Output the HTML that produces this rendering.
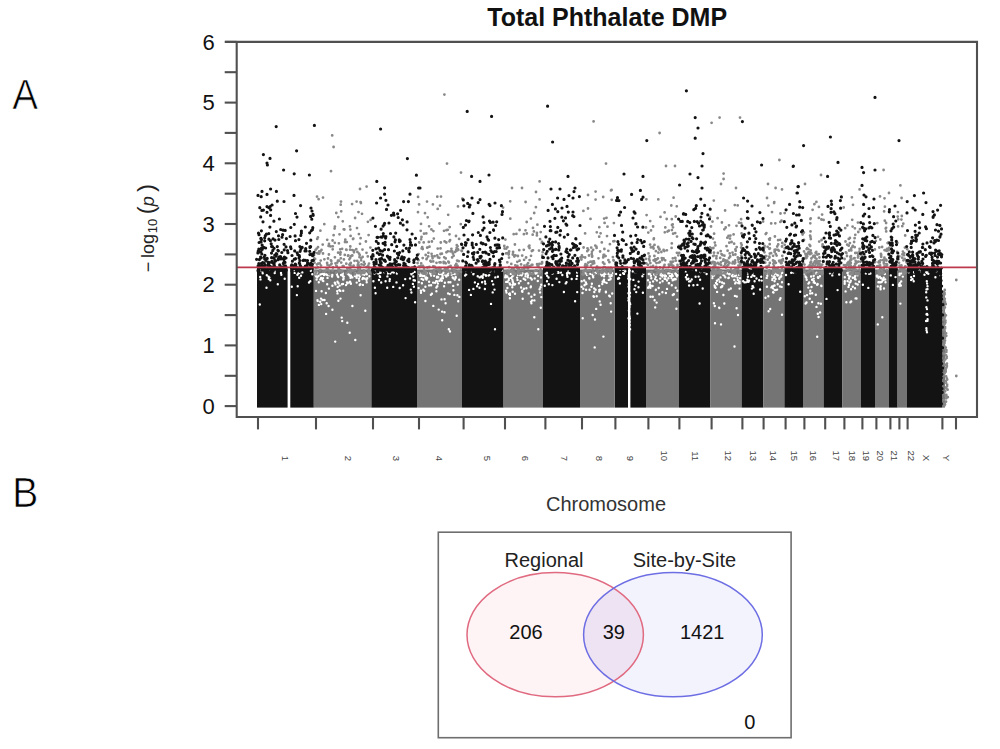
<!DOCTYPE html>
<html><head><meta charset="utf-8"><style>
html,body{margin:0;padding:0;background:#fff;}
body{width:1000px;height:749px;position:relative;overflow:hidden;font-family:"Liberation Sans",sans-serif;}
svg text{font-family:"Liberation Sans",sans-serif;}
</style></head><body>
<svg width="1000" height="749" viewBox="0 0 1000 749" style="position:absolute;left:0;top:0">
<rect x="257.0" y="266.5" width="30.6" height="141.1" fill="#131313"/>
<rect x="290.3" y="266.5" width="23.5" height="141.1" fill="#131313"/>
<rect x="313.8" y="269.5" width="57.6" height="138.1" fill="#747474"/>
<rect x="371.4" y="267.7" width="45.6" height="139.9" fill="#131313"/>
<rect x="417.0" y="269.5" width="45.0" height="138.1" fill="#747474"/>
<rect x="462.0" y="267.7" width="41.6" height="139.9" fill="#131313"/>
<rect x="503.6" y="269.5" width="39.4" height="138.1" fill="#747474"/>
<rect x="543.0" y="267.7" width="37.0" height="139.9" fill="#131313"/>
<rect x="580.0" y="269.5" width="34.0" height="138.1" fill="#747474"/>
<rect x="614.5" y="266.5" width="13.5" height="141.1" fill="#131313"/>
<rect x="630.4" y="267.7" width="15.6" height="139.9" fill="#131313"/>
<rect x="646.0" y="269.5" width="33.0" height="138.1" fill="#747474"/>
<rect x="679.0" y="266.5" width="31.4" height="141.1" fill="#131313"/>
<rect x="710.4" y="269.5" width="31.2" height="138.1" fill="#747474"/>
<rect x="741.6" y="269.5" width="21.8" height="138.1" fill="#131313"/>
<rect x="763.4" y="269.5" width="21.0" height="138.1" fill="#747474"/>
<rect x="784.4" y="267.7" width="18.6" height="139.9" fill="#131313"/>
<rect x="803.0" y="269.5" width="20.6" height="138.1" fill="#747474"/>
<rect x="823.6" y="267.7" width="18.8" height="139.9" fill="#131313"/>
<rect x="842.4" y="269.5" width="18.6" height="138.1" fill="#747474"/>
<rect x="861.0" y="267.7" width="14.0" height="139.9" fill="#131313"/>
<rect x="875.0" y="269.5" width="14.0" height="138.1" fill="#747474"/>
<rect x="889.0" y="267.7" width="8.6" height="139.9" fill="#131313"/>
<rect x="897.6" y="269.5" width="9.4" height="138.1" fill="#747474"/>
<rect x="907.0" y="267.7" width="35.0" height="139.9" fill="#131313"/>
<rect x="942.0" y="290.8" width="3.0" height="116.8" fill="#747474"/>
<path d="M262.7 273.2h0M260.5 279.4h0M268.6 276.7h0M272.5 270.1h0M270.5 269.9h0M261.0 270.2h0M281.3 274.7h0M264.7 270.8h0M284.7 278.7h0M269.4 277.6h0M259.8 304.5h0M266.5 287.8h0M261.8 271.0h0M281.0 273.0h0M274.6 271.4h0M268.8 279.0h0M260.2 276.9h0M264.2 270.1h0M270.3 280.2h0M274.7 273.0h0M266.8 275.2h0M277.8 284.3h0M301.0 275.8h0M294.7 272.9h0M298.3 273.5h0M291.8 286.7h0M309.0 282.5h0M310.8 270.7h0M310.3 281.2h0M299.4 272.7h0M312.3 274.2h0M299.2 277.8h0M297.4 274.7h0M293.9 270.0h0M297.7 286.3h0M296.9 295.1h0M302.3 272.4h0M299.5 271.5h0M347.8 273.9h0M327.2 284.3h0M323.0 278.1h0M329.2 275.3h0M350.9 283.7h0M315.9 275.3h0M352.3 277.4h0M332.3 275.0h0M358.7 275.3h0M318.8 282.2h0M336.9 273.9h0M350.2 282.3h0M324.2 273.7h0M337.7 287.0h0M332.1 276.6h0M332.4 309.7h0M334.8 282.7h0M362.5 279.1h0M335.2 341.6h0M355.1 275.2h0M315.6 275.3h0M338.4 300.7h0M337.5 293.4h0M340.5 298.6h0M316.1 274.7h0M350.3 282.3h0M320.2 301.8h0M335.5 284.4h0M323.3 281.1h0M343.8 276.6h0M321.2 304.1h0M359.2 280.7h0M326.1 313.9h0M366.8 274.2h0M341.7 317.6h0M365.9 273.2h0M364.7 278.5h0M360.3 284.3h0M358.2 274.7h0M337.4 275.6h0M360.6 295.3h0M327.2 275.0h0M343.6 278.8h0M322.0 278.4h0M354.9 276.0h0M317.5 300.2h0M356.7 282.6h0M361.1 273.0h0M348.0 274.1h0M349.5 282.3h0M338.2 277.0h0M338.5 283.2h0M339.7 285.6h0M316.6 279.6h0M342.0 284.3h0M357.0 275.8h0M340.3 290.9h0M341.1 275.0h0M322.3 273.9h0M320.3 279.4h0M343.2 279.6h0M350.0 273.1h0M355.3 273.6h0M343.2 290.8h0M342.8 273.2h0M367.2 278.3h0M362.1 274.3h0M355.3 340.0h0M325.9 293.0h0M342.2 321.1h0M365.3 310.7h0M358.3 274.8h0M318.9 304.9h0M356.6 277.8h0M364.3 274.7h0M359.8 276.5h0M342.7 274.4h0M326.7 303.2h0M342.9 276.3h0M317.3 277.2h0M324.1 275.0h0M352.4 306.0h0M324.5 300.0h0M321.6 291.2h0M350.0 281.7h0M363.0 278.0h0M347.0 282.4h0M321.0 298.6h0M349.7 332.7h0M358.9 278.6h0M369.4 276.3h0M335.0 283.0h0M339.4 290.1h0M355.9 274.9h0M360.1 273.2h0M350.2 276.1h0M347.3 322.8h0M332.4 285.8h0M317.1 272.6h0M348.9 274.5h0M343.3 279.4h0M322.5 300.0h0M351.0 275.7h0M315.4 272.8h0M321.1 277.9h0M327.5 277.9h0M347.5 283.2h0M349.4 275.3h0M322.7 280.4h0M328.6 306.0h0M320.5 274.5h0M362.9 284.9h0M337.2 291.1h0M315.9 276.3h0M346.0 285.1h0M350.5 277.8h0M366.5 279.7h0M328.9 288.6h0M317.7 300.9h0M337.5 281.8h0M318.5 275.9h0M316.0 290.9h0M366.7 282.3h0M326.2 274.4h0M343.0 283.9h0M359.7 285.0h0M405.6 298.1h0M413.9 286.7h0M374.5 273.5h0M380.6 272.8h0M375.1 271.6h0M410.0 278.4h0M413.3 276.5h0M375.6 293.2h0M389.8 279.3h0M413.8 271.9h0M396.9 273.5h0M413.6 280.3h0M389.6 281.1h0M379.7 276.3h0M415.1 302.3h0M374.5 273.1h0M387.9 273.5h0M411.4 292.5h0M374.9 287.7h0M403.1 285.2h0M414.9 280.5h0M379.1 271.3h0M412.9 283.9h0M385.6 281.3h0M405.2 279.1h0M386.7 271.8h0M378.2 273.5h0M380.1 276.9h0M379.0 273.3h0M373.4 281.3h0M381.2 282.5h0M412.4 271.1h0M412.7 273.1h0M410.8 289.6h0M392.0 272.1h0M412.5 271.7h0M399.7 288.0h0M387.4 276.4h0M393.2 286.9h0M379.0 280.0h0M375.3 273.1h0M396.5 282.4h0M410.0 272.2h0M390.4 273.6h0M384.4 272.3h0M387.2 287.8h0M393.8 272.5h0M411.4 274.3h0M414.6 271.9h0M437.2 281.4h0M433.3 305.9h0M455.7 276.9h0M442.2 274.4h0M452.7 277.5h0M450.4 282.2h0M446.5 274.8h0M437.9 283.6h0M453.4 290.2h0M430.7 274.0h0M427.2 278.0h0M430.3 273.3h0M448.0 275.2h0M423.2 279.8h0M438.2 277.3h0M425.6 278.0h0M419.0 273.5h0M450.0 331.4h0M448.6 273.6h0M442.2 320.2h0M439.0 274.0h0M426.5 279.5h0M418.8 282.1h0M445.6 303.2h0M457.8 284.6h0M429.1 285.4h0M424.3 276.0h0M451.0 272.9h0M430.9 294.8h0M445.3 275.1h0M457.4 295.2h0M451.5 274.8h0M449.7 294.1h0M426.3 277.4h0M431.9 293.7h0M441.6 278.1h0M453.4 278.2h0M420.2 275.9h0M444.9 282.7h0M448.1 293.4h0M458.2 301.2h0M439.5 280.8h0M431.1 274.6h0M421.9 283.1h0M425.4 286.7h0M459.2 279.7h0M420.2 273.7h0M426.5 279.6h0M418.6 288.1h0M454.4 294.9h0M436.4 291.3h0M446.3 276.6h0M436.2 281.3h0M436.9 277.6h0M453.2 285.9h0M425.4 301.0h0M437.1 276.8h0M433.1 282.6h0M422.1 275.2h0M437.8 277.3h0M456.7 315.7h0M459.4 296.9h0M444.5 312.2h0M421.0 292.8h0M444.1 286.3h0M442.5 276.8h0M438.7 309.6h0M431.1 285.2h0M455.7 277.7h0M426.4 272.9h0M437.3 286.3h0M446.2 273.6h0M442.9 278.2h0M440.8 279.1h0M435.1 282.7h0M426.1 274.0h0M441.5 299.4h0M454.7 274.0h0M422.5 276.1h0M429.1 281.7h0M441.8 280.7h0M442.6 275.7h0M440.1 274.0h0M421.9 283.3h0M421.6 278.9h0M454.8 279.6h0M448.5 282.3h0M423.3 289.7h0M448.8 329.3h0M453.4 273.9h0M425.7 278.6h0M442.1 311.6h0M424.2 290.7h0M420.9 290.7h0M434.1 275.8h0M443.5 272.7h0M431.1 275.5h0M436.4 287.5h0M444.6 299.2h0M477.7 276.2h0M474.9 282.4h0M488.5 275.6h0M477.1 286.3h0M485.8 275.3h0M470.9 294.9h0M491.0 303.9h0M489.2 275.1h0M466.2 274.5h0M478.1 283.9h0M482.7 277.7h0M492.7 292.4h0M486.4 271.0h0M481.3 276.5h0M479.5 287.8h0M497.9 276.7h0M482.5 276.2h0M495.3 277.4h0M492.1 281.1h0M465.1 275.5h0M484.9 281.4h0M493.2 284.4h0M472.0 271.9h0M495.1 271.5h0M466.9 271.7h0M485.3 283.8h0M489.8 271.3h0M482.1 282.3h0M490.2 271.3h0M486.0 275.8h0M495.0 329.2h0M469.1 289.9h0M483.5 274.5h0M501.7 270.8h0M473.6 273.7h0M473.3 274.2h0M484.9 289.0h0M479.7 277.4h0M475.3 271.2h0M494.5 289.6h0M473.4 288.9h0M537.8 281.0h0M532.1 300.4h0M528.7 293.4h0M509.9 298.2h0M530.7 287.3h0M515.1 284.1h0M527.1 273.4h0M515.0 293.7h0M513.2 275.5h0M529.7 273.8h0M534.3 317.3h0M530.6 278.0h0M535.6 273.5h0M505.2 277.3h0M510.2 284.6h0M507.3 276.5h0M525.3 279.7h0M506.5 292.6h0M509.1 293.9h0M528.0 275.6h0M517.1 277.6h0M513.0 282.8h0M512.7 291.7h0M534.5 294.8h0M506.2 281.9h0M506.1 290.8h0M520.5 281.1h0M528.0 273.4h0M526.4 288.2h0M523.7 278.8h0M513.3 283.3h0M541.3 297.1h0M540.1 292.4h0M541.0 277.4h0M522.5 273.5h0M521.6 274.3h0M530.9 286.5h0M517.5 279.9h0M519.8 275.1h0M512.2 276.6h0M523.9 288.7h0M512.3 279.6h0M512.3 287.3h0M525.5 276.3h0M540.5 287.2h0M539.6 289.3h0M531.4 303.2h0M507.4 288.0h0M505.6 275.4h0M531.4 296.7h0M514.7 284.6h0M511.1 277.9h0M541.2 284.7h0M506.7 277.0h0M518.0 274.9h0M534.4 300.4h0M508.8 279.9h0M510.7 273.9h0M522.3 290.8h0M538.3 329.2h0M522.4 291.8h0M509.8 293.5h0M525.6 274.0h0M512.7 281.2h0M505.9 276.1h0M531.0 301.6h0M540.8 307.8h0M531.8 279.5h0M534.7 278.4h0M510.0 294.9h0M512.9 272.7h0M518.9 283.2h0M535.3 272.7h0M522.0 291.3h0M537.5 273.1h0M507.7 281.8h0M527.8 277.3h0M522.7 298.8h0M512.6 284.9h0M538.1 275.9h0M508.9 278.4h0M509.7 283.4h0M521.7 275.3h0M528.3 283.3h0M521.1 287.5h0M531.5 273.4h0M548.5 277.5h0M566.9 273.3h0M571.7 279.0h0M577.2 292.1h0M547.1 272.7h0M563.9 292.0h0M568.0 272.6h0M552.5 273.5h0M562.3 275.0h0M547.0 281.3h0M565.7 283.4h0M567.4 276.7h0M544.8 285.7h0M567.5 276.8h0M566.5 282.3h0M577.1 272.6h0M552.4 285.1h0M577.1 276.0h0M558.4 272.9h0M575.1 301.2h0M569.5 273.2h0M567.1 274.9h0M548.8 284.3h0M551.8 273.1h0M545.7 273.6h0M558.3 272.1h0M547.1 275.8h0M576.5 278.9h0M556.6 278.8h0M559.4 282.1h0M560.9 272.5h0M567.5 270.9h0M557.1 272.4h0M593.5 296.3h0M608.6 273.7h0M600.0 289.6h0M582.7 318.2h0M585.4 273.3h0M603.5 272.8h0M585.0 284.6h0M587.1 274.7h0M602.3 284.0h0M592.7 315.0h0M595.0 319.5h0M589.4 278.6h0M611.7 275.8h0M603.4 336.6h0M587.1 274.9h0M592.4 274.6h0M583.3 288.8h0M602.6 281.7h0M595.1 273.0h0M599.3 291.6h0M608.8 279.9h0M591.9 283.7h0M610.7 278.7h0M609.9 296.4h0M585.9 282.5h0M593.4 274.9h0M581.6 286.8h0M605.9 292.2h0M581.7 281.3h0M594.3 292.0h0M599.2 286.0h0M594.2 288.4h0M611.1 311.6h0M600.6 304.7h0M593.2 277.2h0M609.5 276.4h0M605.9 291.6h0M612.2 293.5h0M591.4 286.7h0M589.6 289.8h0M586.4 284.0h0M596.7 296.2h0M610.1 276.5h0M610.3 273.6h0M586.1 289.7h0M599.3 289.9h0M599.7 301.4h0M610.4 279.3h0M605.6 273.7h0M590.1 273.9h0M608.5 274.0h0M604.0 279.6h0M604.1 276.2h0M584.5 285.3h0M603.9 280.8h0M601.8 275.5h0M593.0 276.5h0M610.7 303.2h0M594.7 347.4h0M606.6 282.9h0M595.6 289.8h0M593.9 296.7h0M596.2 308.9h0M604.7 274.1h0M602.6 274.5h0M612.1 273.2h0M604.5 282.0h0M601.2 274.3h0M589.2 278.3h0M582.5 293.0h0M584.2 280.5h0M609.2 295.7h0M595.9 273.0h0M603.8 280.2h0M619.9 283.4h0M625.5 270.7h0M620.2 274.9h0M618.7 278.0h0M620.1 269.7h0M616.1 274.0h0M624.0 273.9h0M623.1 273.3h0M618.0 278.7h0M623.1 269.7h0M619.1 278.3h0M625.0 271.6h0M638.5 287.2h0M643.1 270.9h0M642.4 276.2h0M638.6 281.6h0M634.5 289.3h0M636.2 292.1h0M636.1 271.0h0M632.8 271.4h0M633.4 279.9h0M635.6 272.4h0M643.5 273.8h0M642.9 292.8h0M637.4 313.6h0M635.4 285.6h0M659.3 294.3h0M655.9 289.7h0M648.8 274.0h0M673.7 279.8h0M660.7 275.3h0M655.8 290.0h0M663.1 274.6h0M675.7 279.3h0M654.6 300.2h0M660.0 282.6h0M660.8 273.0h0M656.6 302.6h0M668.8 283.3h0M675.2 273.4h0M656.5 274.0h0M648.1 287.8h0M651.3 278.3h0M648.0 280.3h0M654.2 274.5h0M650.2 273.6h0M663.0 275.2h0M672.1 274.3h0M655.1 279.1h0M672.7 275.9h0M669.8 273.1h0M675.8 273.8h0M665.4 278.9h0M650.5 296.7h0M668.3 273.4h0M669.1 283.3h0M662.4 276.5h0M660.6 275.1h0M665.1 276.6h0M655.7 276.9h0M650.1 285.0h0M662.4 292.2h0M650.9 275.7h0M662.6 281.2h0M658.7 288.0h0M674.3 279.0h0M676.9 276.4h0M677.2 299.6h0M655.2 307.4h0M665.9 293.0h0M677.4 275.3h0M671.8 285.2h0M649.9 282.5h0M652.8 296.7h0M666.0 276.2h0M661.4 275.2h0M650.4 287.7h0M650.6 285.7h0M667.0 280.4h0M648.8 286.7h0M676.3 275.1h0M660.2 278.6h0M668.4 278.3h0M667.0 288.9h0M664.6 278.8h0M653.1 281.4h0M676.4 308.8h0M677.3 290.8h0M672.7 280.2h0M669.8 275.9h0M675.7 287.8h0M673.9 294.3h0M671.1 276.3h0M656.9 280.4h0M671.5 278.1h0M672.8 295.0h0M652.6 286.0h0M664.5 274.6h0M695.6 276.7h0M682.4 269.9h0M700.1 279.8h0M706.6 274.0h0M689.1 285.5h0M696.2 270.2h0M686.9 279.4h0M694.3 269.9h0M701.4 269.8h0M688.4 278.7h0M687.1 275.0h0M685.7 271.4h0M693.4 285.3h0M690.4 281.3h0M697.4 284.9h0M691.7 279.4h0M685.9 277.2h0M699.6 303.5h0M698.6 276.6h0M690.0 270.5h0M704.4 272.0h0M693.1 269.6h0M702.7 288.5h0M689.1 281.4h0M700.5 272.0h0M717.1 284.2h0M736.7 296.4h0M734.9 295.9h0M716.9 280.7h0M732.7 276.4h0M715.0 323.2h0M721.9 272.6h0M728.8 277.8h0M735.7 274.0h0M737.5 277.6h0M720.5 277.4h0M739.1 274.9h0M735.2 283.4h0M727.2 273.4h0M739.6 288.6h0M714.8 306.0h0M740.1 278.2h0M738.9 281.9h0M712.6 276.1h0M719.3 308.0h0M722.1 282.5h0M738.2 283.0h0M736.6 308.2h0M735.1 276.2h0M723.6 272.8h0M719.1 307.6h0M728.3 278.1h0M731.9 275.8h0M714.6 285.4h0M713.9 303.2h0M721.7 287.0h0M714.1 274.4h0M734.5 346.5h0M734.3 280.0h0M738.0 315.0h0M719.7 281.8h0M739.6 281.4h0M730.8 288.5h0M723.4 295.0h0M735.8 282.5h0M736.1 275.3h0M727.0 272.9h0M716.0 282.9h0M724.3 303.5h0M723.5 275.0h0M724.0 283.4h0M714.5 272.6h0M715.6 287.7h0M734.7 276.1h0M736.8 296.6h0M712.0 274.9h0M728.8 289.6h0M712.4 278.1h0M718.6 279.4h0M739.6 283.3h0M714.0 275.4h0M714.9 287.0h0M724.3 275.6h0M721.0 324.4h0M725.3 277.2h0M723.2 274.7h0M721.0 287.2h0M717.1 291.9h0M729.6 273.9h0M737.8 279.9h0M732.9 273.9h0M722.3 286.0h0M729.2 274.2h0M753.7 293.8h0M743.2 281.3h0M754.6 281.3h0M752.8 286.3h0M747.3 273.7h0M744.6 282.4h0M747.8 273.6h0M753.4 287.4h0M761.2 276.7h0M747.6 280.7h0M759.2 280.3h0M751.3 276.9h0M761.7 280.6h0M746.5 282.1h0M749.1 280.7h0M756.5 278.5h0M752.6 272.8h0M754.4 276.1h0M751.9 288.6h0M748.5 281.8h0M752.7 275.3h0M747.3 279.7h0M752.5 286.1h0M747.9 276.7h0M760.1 289.5h0M772.2 275.5h0M775.4 273.5h0M777.5 275.6h0M777.3 274.9h0M777.7 284.2h0M770.2 309.0h0M772.1 286.5h0M779.8 299.8h0M775.7 290.1h0M781.2 276.2h0M782.0 314.7h0M779.7 277.6h0M780.0 286.4h0M773.1 292.2h0M779.2 278.7h0M774.6 285.5h0M765.5 297.7h0M773.3 272.7h0M780.1 273.8h0M780.8 273.7h0M767.3 275.7h0M777.1 289.6h0M775.6 279.0h0M782.0 282.3h0M774.6 281.2h0M772.3 280.1h0M766.9 286.8h0M781.6 286.9h0M774.7 289.9h0M766.7 277.9h0M774.6 273.7h0M780.5 298.3h0M778.4 275.0h0M773.5 292.5h0M768.3 296.3h0M774.2 277.5h0M773.0 288.3h0M780.5 276.9h0M772.5 278.6h0M773.6 275.6h0M771.4 287.4h0M773.8 285.7h0M782.2 272.7h0M774.7 276.7h0M768.6 311.3h0M768.6 273.4h0M800.2 291.7h0M788.6 284.3h0M786.0 275.0h0M791.2 272.8h0M793.3 272.6h0M796.1 272.1h0M821.4 286.0h0M815.0 283.1h0M818.6 317.0h0M806.3 277.6h0M805.6 303.5h0M820.9 303.7h0M821.2 285.7h0M817.6 283.9h0M808.4 283.6h0M817.6 273.6h0M806.7 279.8h0M809.2 282.5h0M819.9 276.3h0M817.7 284.3h0M812.2 293.2h0M812.1 279.8h0M818.2 277.9h0M809.7 298.8h0M808.3 287.6h0M816.6 272.7h0M810.3 290.7h0M817.2 336.8h0M817.9 277.3h0M807.0 295.1h0M812.1 302.0h0M811.1 276.5h0M813.8 281.7h0M805.6 276.8h0M817.1 284.7h0M811.5 287.0h0M804.8 296.2h0M804.8 274.2h0M813.7 282.4h0M813.7 275.7h0M805.1 272.6h0M820.1 312.4h0M816.0 273.4h0M814.0 281.2h0M815.8 294.8h0M816.5 306.9h0M806.5 302.5h0M810.1 293.5h0M818.4 303.3h0M817.8 313.7h0M813.7 278.6h0M829.9 273.2h0M839.2 274.5h0M837.6 290.1h0M832.3 275.4h0M832.4 272.8h0M826.5 298.9h0M844.7 283.7h0M848.4 272.7h0M855.6 298.4h0M850.2 276.2h0M855.0 279.1h0M849.4 276.6h0M847.6 281.1h0M855.6 279.4h0M844.8 281.1h0M852.8 277.8h0M849.9 275.8h0M849.6 282.5h0M857.5 275.0h0M858.0 273.4h0M852.5 273.8h0M850.3 282.1h0M857.7 284.5h0M844.8 277.2h0M857.6 275.3h0M855.7 283.6h0M849.0 278.5h0M852.8 286.8h0M846.4 302.2h0M854.7 277.7h0M851.2 301.4h0M845.6 291.4h0M849.0 285.0h0M848.5 286.9h0M848.1 275.1h0M855.0 288.2h0M850.4 302.2h0M856.5 273.4h0M855.1 276.2h0M850.8 280.7h0M847.4 272.9h0M851.1 289.3h0M856.5 298.5h0M859.2 281.8h0M850.2 272.6h0M844.7 281.8h0M870.4 273.5h0M869.1 273.8h0M862.9 284.7h0M868.3 287.9h0M865.9 273.4h0M883.7 277.6h0M884.0 288.5h0M880.7 286.2h0M880.4 287.8h0M877.6 275.8h0M878.4 282.3h0M879.8 276.6h0M881.1 278.2h0M882.3 317.2h0M880.9 282.2h0M885.5 282.2h0M882.1 281.5h0M878.5 277.8h0M877.5 275.5h0M876.9 276.6h0M882.8 279.1h0M884.8 274.0h0M883.4 279.9h0M885.2 279.4h0M877.8 286.4h0M879.4 282.2h0M880.6 289.2h0M876.9 275.6h0M877.8 324.4h0M892.9 284.9h0M890.8 275.4h0M895.5 277.1h0M899.3 285.9h0M901.5 273.4h0M900.0 284.8h0M904.6 273.1h0M899.5 275.1h0M899.6 273.6h0M902.8 276.6h0M900.9 285.5h0M901.2 281.4h0M899.8 283.1h0M899.1 284.4h0M900.4 303.6h0M913.7 281.2h0M940.4 275.9h0M919.5 270.7h0M914.0 272.2h0M928.3 273.7h0M936.2 271.4h0M914.0 276.0h0M925.3 271.7h0M924.5 274.8h0M919.9 271.8h0M911.2 277.3h0M935.4 277.2h0M912.6 279.1h0M911.1 280.1h0M908.8 272.2h0M629.2 326.0h0M629.5 322.3h0M628.5 300.4h0M630.2 304.2h0M629.9 318.5h0M629.1 311.4h0M629.7 296.4h0M629.2 318.6h0M630.1 329.2h0M628.9 310.6h0M629.3 321.1h0M628.6 298.0h0M628.6 318.2h0M629.7 270.4h0M628.3 278.5h0M629.4 316.5h0M628.8 274.8h0M629.4 306.9h0M629.0 286.2h0M628.8 283.9h0M630.0 292.9h0M629.7 302.9h0M628.6 286.8h0M629.6 321.8h0M630.2 279.2h0M628.6 275.9h0M628.5 293.2h0M629.7 325.0h0M629.4 278.7h0M628.9 278.6h0M926.4 307.3h0M926.8 281.2h0M926.4 328.2h0M927.0 309.1h0M926.5 289.4h0M927.2 271.0h0M927.0 332.2h0M927.0 273.1h0M926.1 321.0h0M926.3 297.4h0M927.0 313.9h0M926.5 314.3h0M927.5 300.4h0M926.6 314.6h0M927.4 314.7h0M927.5 320.8h0M927.5 286.3h0M927.1 283.6h0M926.2 292.2h0M927.5 289.1h0M926.5 330.2h0M927.6 319.2h0" stroke="#fff" stroke-width="2.4" stroke-linecap="round" fill="none"/>
<path d="M330.9 260.3h0M313.7 254.3h0M340.6 252.5h0M327.4 264.8h0M317.0 264.4h0M354.0 252.3h0M328.9 254.5h0M358.6 265.2h0M350.5 269.5h0M363.7 270.5h0M327.1 262.9h0M357.0 228.1h0M332.6 240.5h0M352.3 255.5h0M361.5 264.3h0M338.9 243.3h0M331.3 260.9h0M317.9 237.4h0M316.3 271.9h0M316.4 271.9h0M350.4 229.6h0M317.2 253.1h0M360.3 267.2h0M317.2 238.9h0M368.6 235.1h0M321.0 265.6h0M360.9 203.0h0M350.3 246.5h0M320.2 270.4h0M332.5 270.7h0M329.1 274.0h0M334.9 226.7h0M342.8 221.3h0M315.1 259.0h0M357.8 265.2h0M344.8 254.9h0M318.6 199.2h0M314.9 271.4h0M370.6 219.9h0M342.1 248.8h0M342.3 271.1h0M328.6 245.9h0M326.7 269.1h0M319.7 263.4h0M358.6 273.0h0M350.1 249.7h0M336.7 266.2h0M364.2 272.9h0M329.4 265.6h0M335.5 263.3h0M340.4 270.1h0M357.4 251.9h0M333.0 267.5h0M352.1 204.1h0M339.2 271.4h0M320.7 260.6h0M327.2 239.8h0M354.5 260.8h0M323.5 271.7h0M343.9 259.4h0M324.4 259.3h0M319.3 253.5h0M336.2 272.7h0M356.3 249.1h0M350.3 270.9h0M336.4 265.6h0M359.7 255.1h0M350.4 263.3h0M348.4 271.9h0M366.5 252.8h0M357.2 260.8h0M355.0 270.2h0M354.3 250.6h0M350.9 256.2h0M349.7 268.4h0M359.1 253.7h0M328.0 258.5h0M349.4 264.7h0M367.8 256.4h0M358.9 234.1h0M369.0 263.6h0M322.7 244.6h0M343.7 229.3h0M345.0 242.0h0M350.8 262.9h0M337.3 262.6h0M352.9 270.6h0M320.5 251.4h0M317.9 267.4h0M314.1 255.0h0M353.6 265.7h0M327.3 269.5h0M344.2 229.5h0M336.3 213.0h0M358.0 269.1h0M340.8 258.3h0M368.4 270.3h0M361.3 258.1h0M331.2 264.3h0M361.2 272.2h0M329.0 244.0h0M338.5 269.7h0M354.9 274.3h0M331.6 263.7h0M350.2 265.4h0M366.4 267.2h0M360.8 273.4h0M321.5 249.9h0M314.2 258.4h0M320.4 269.8h0M358.0 264.3h0M365.1 271.7h0M364.3 271.4h0M352.5 250.1h0M362.5 249.6h0M344.4 229.6h0M363.9 265.2h0M327.8 269.5h0M316.7 248.6h0M342.1 271.9h0M363.9 262.0h0M340.7 204.7h0M362.6 256.9h0M368.2 265.7h0M350.6 235.9h0M353.3 238.7h0M369.4 268.0h0M364.7 263.8h0M349.9 226.3h0M334.8 242.8h0M358.5 262.5h0M338.1 252.7h0M330.5 246.4h0M342.8 266.1h0M370.4 247.6h0M332.7 249.3h0M347.4 268.7h0M315.6 249.9h0M345.3 239.7h0M313.7 260.8h0M359.5 257.2h0M349.4 259.3h0M348.2 255.3h0M351.9 270.6h0M319.2 251.4h0M357.9 273.0h0M334.9 257.3h0M346.2 249.7h0M338.0 260.7h0M350.5 265.4h0M346.4 273.5h0M359.9 269.6h0M339.5 234.3h0M348.0 255.8h0M341.2 211.3h0M350.6 272.7h0M315.7 268.1h0M320.4 230.7h0M363.1 272.9h0M354.8 273.7h0M324.3 224.2h0M355.1 218.0h0M318.2 253.5h0M340.3 254.6h0M368.4 269.7h0M315.6 274.2h0M318.0 247.2h0M323.0 253.5h0M318.1 263.7h0M339.0 260.7h0M359.1 271.9h0M350.2 257.8h0M358.5 266.6h0M346.5 249.9h0M369.0 272.0h0M332.8 246.3h0M362.0 213.8h0M338.6 268.5h0M352.9 266.8h0M360.6 238.2h0M329.4 274.3h0M361.1 260.3h0M361.1 273.7h0M346.8 242.1h0M360.6 202.1h0M333.6 235.2h0M360.0 243.8h0M367.9 221.8h0M353.0 239.0h0M329.0 270.7h0M340.2 249.3h0M358.5 212.1h0M365.9 241.5h0M341.2 262.6h0M325.5 271.0h0M334.6 228.6h0M343.6 266.2h0M370.2 272.7h0M350.0 272.6h0M348.0 271.7h0M314.5 262.7h0M346.3 263.7h0M338.3 217.1h0M458.7 261.2h0M450.1 271.4h0M447.8 251.3h0M434.0 272.3h0M449.7 227.1h0M421.1 239.3h0M421.7 248.4h0M428.2 256.4h0M455.1 251.9h0M418.9 272.5h0M425.0 213.2h0M447.5 268.9h0M455.6 271.9h0M453.7 255.7h0M432.7 274.2h0M456.7 247.9h0M425.8 273.8h0M434.6 256.2h0M454.3 271.6h0M444.6 241.4h0M426.5 259.2h0M418.5 260.2h0M438.0 257.4h0M433.2 266.5h0M431.9 241.5h0M461.9 251.0h0M446.9 268.4h0M439.5 262.3h0M440.8 242.5h0M418.1 196.9h0M456.6 250.8h0M445.7 258.4h0M452.2 269.1h0M447.8 229.8h0M450.5 251.4h0M432.6 258.3h0M420.6 266.1h0M460.5 268.1h0M428.5 267.1h0M422.7 258.1h0M437.3 196.7h0M430.4 260.9h0M431.0 271.8h0M441.9 253.7h0M457.6 267.7h0M425.7 273.0h0M432.9 204.4h0M455.3 265.5h0M457.9 249.2h0M417.6 263.1h0M448.9 262.5h0M425.7 255.0h0M446.3 242.5h0M460.8 224.2h0M452.8 273.1h0M423.9 267.7h0M456.8 245.2h0M426.3 233.4h0M446.4 252.3h0M432.0 256.2h0M418.6 254.1h0M439.3 267.9h0M437.9 269.6h0M419.1 204.4h0M431.6 253.8h0M424.1 267.9h0M453.0 272.9h0M443.6 262.0h0M444.2 257.3h0M428.4 252.8h0M452.2 251.4h0M461.5 250.7h0M440.5 269.2h0M418.4 272.1h0M452.1 257.4h0M427.0 201.6h0M419.2 272.9h0M439.6 272.0h0M458.4 271.2h0M425.6 271.8h0M424.0 233.7h0M427.7 217.3h0M445.8 263.3h0M437.7 248.6h0M421.5 237.0h0M445.8 273.3h0M419.3 242.5h0M457.5 266.0h0M426.8 258.6h0M436.5 262.8h0M450.6 265.8h0M460.8 268.7h0M423.7 242.4h0M428.8 241.9h0M429.5 246.7h0M456.3 263.8h0M444.0 230.8h0M457.1 260.6h0M456.2 250.2h0M462.3 198.7h0M422.8 273.4h0M457.2 274.2h0M421.0 223.9h0M420.7 230.8h0M449.5 234.3h0M418.0 212.2h0M448.2 214.8h0M427.2 247.7h0M418.9 272.6h0M455.8 268.3h0M422.7 249.0h0M447.5 271.2h0M439.5 223.5h0M439.3 257.8h0M427.3 267.5h0M450.1 240.1h0M429.4 267.0h0M439.9 272.7h0M433.2 261.4h0M446.5 230.2h0M448.3 261.7h0M449.5 241.3h0M436.0 268.3h0M434.6 266.6h0M460.9 271.9h0M459.1 238.9h0M433.8 238.6h0M423.0 266.0h0M458.3 249.9h0M431.4 229.4h0M431.0 261.7h0M450.1 274.4h0M443.7 263.0h0M445.1 270.1h0M448.6 266.8h0M444.7 262.4h0M445.0 268.2h0M444.3 270.3h0M440.5 254.0h0M424.1 270.4h0M440.6 262.4h0M427.5 247.6h0M437.7 208.9h0M457.6 246.3h0M434.4 273.7h0M422.2 247.2h0M421.2 263.4h0M440.5 248.4h0M435.0 272.9h0M437.2 255.4h0M451.4 248.8h0M433.4 231.1h0M433.9 270.0h0M418.8 266.7h0M419.2 242.3h0M429.1 226.3h0M453.9 270.0h0M456.0 236.0h0M452.9 253.5h0M419.9 267.0h0M519.3 250.2h0M512.8 254.4h0M522.2 255.6h0M513.5 273.3h0M519.3 270.2h0M528.7 246.6h0M508.1 273.8h0M504.6 248.5h0M539.4 263.9h0M540.7 232.1h0M513.7 234.2h0M532.9 273.7h0M534.8 271.1h0M507.4 247.2h0M540.1 239.2h0M525.6 202.0h0M528.1 263.2h0M506.2 248.7h0M514.9 244.5h0M532.5 274.3h0M535.9 207.2h0M528.9 272.3h0M507.6 253.1h0M517.3 261.8h0M537.4 224.7h0M518.3 272.7h0M509.1 251.4h0M534.2 213.0h0M508.9 271.4h0M524.1 259.8h0M527.5 266.0h0M532.7 234.7h0M536.9 235.4h0M530.1 273.9h0M537.4 265.4h0M513.3 254.8h0M516.7 267.5h0M542.7 252.2h0M533.9 231.4h0M513.9 269.3h0M513.2 274.0h0M516.4 233.9h0M539.0 250.6h0M507.3 262.3h0M528.0 268.4h0M542.1 262.1h0M529.4 245.7h0M519.6 230.0h0M542.2 255.7h0M515.3 265.3h0M514.3 274.2h0M510.2 201.3h0M531.0 255.8h0M513.1 252.0h0M530.4 273.3h0M542.1 263.0h0M529.6 260.1h0M515.4 255.4h0M505.1 271.8h0M508.8 271.9h0M530.9 218.6h0M510.3 218.7h0M519.6 260.7h0M531.8 265.0h0M504.3 245.9h0M536.6 270.3h0M514.3 256.6h0M538.4 266.4h0M526.8 233.5h0M510.0 271.2h0M526.1 257.5h0M505.2 271.8h0M540.6 272.2h0M508.7 253.9h0M518.3 269.8h0M513.9 272.5h0M518.8 269.0h0M511.9 270.3h0M517.9 256.0h0M537.1 264.2h0M536.9 233.0h0M521.0 273.2h0M531.8 251.0h0M522.5 269.6h0M521.1 264.4h0M518.1 271.7h0M525.5 230.3h0M532.4 264.8h0M542.0 241.8h0M539.9 272.5h0M511.0 270.0h0M507.7 270.6h0M506.1 253.4h0M512.3 268.3h0M509.1 267.2h0M511.3 263.9h0M523.9 234.2h0M533.0 250.3h0M523.3 270.1h0M509.0 257.6h0M533.0 227.9h0M538.4 267.1h0M527.0 264.6h0M512.7 273.0h0M508.8 252.5h0M526.7 222.0h0M530.0 266.2h0M523.8 249.8h0M541.7 263.6h0M535.8 270.5h0M540.5 270.3h0M517.4 266.0h0M518.6 274.0h0M503.1 207.6h0M521.6 269.6h0M508.7 254.5h0M540.5 269.5h0M524.1 268.8h0M505.4 239.6h0M526.5 267.4h0M537.8 266.0h0M541.8 242.9h0M538.8 273.5h0M515.4 273.7h0M524.4 265.7h0M529.5 248.1h0M610.8 267.7h0M607.1 268.8h0M597.0 266.6h0M610.8 271.5h0M588.3 249.8h0M610.0 270.4h0M606.5 217.8h0M609.4 262.2h0M610.2 272.7h0M605.6 256.1h0M608.3 250.8h0M585.1 233.4h0M593.7 261.5h0M596.0 268.8h0M592.8 269.4h0M600.1 251.5h0M613.9 223.1h0M613.3 241.3h0M590.5 261.7h0M585.0 265.7h0M599.2 236.7h0M592.2 255.9h0M598.5 258.3h0M592.1 256.7h0M612.0 268.7h0M598.7 274.0h0M583.6 247.5h0M603.4 256.7h0M603.2 197.0h0M582.6 274.4h0M590.5 218.9h0M594.3 274.2h0M608.4 260.2h0M586.7 265.8h0M610.8 272.7h0M611.9 268.1h0M581.9 255.3h0M583.4 210.9h0M585.7 269.3h0M612.9 257.1h0M585.1 257.5h0M592.1 261.6h0M585.5 269.7h0M599.8 268.2h0M597.1 271.6h0M593.9 261.3h0M582.9 274.1h0M605.2 270.1h0M588.0 208.5h0M593.1 249.8h0M587.3 251.2h0M595.3 245.6h0M600.6 233.3h0M583.6 271.6h0M601.8 272.9h0M597.4 268.5h0M586.0 269.9h0M610.1 268.1h0M586.3 265.4h0M608.1 269.4h0M601.0 271.7h0M591.2 247.6h0M604.6 222.9h0M602.4 271.4h0M582.7 257.1h0M588.1 274.3h0M583.8 270.8h0M602.5 269.4h0M603.6 255.0h0M583.3 271.7h0M611.7 199.8h0M596.6 247.9h0M596.8 232.3h0M610.9 268.9h0M585.5 264.1h0M602.9 272.2h0M613.7 260.6h0M607.5 226.7h0M581.4 259.6h0M591.7 253.9h0M603.8 267.1h0M583.9 274.3h0M601.8 242.4h0M593.2 272.4h0M582.4 274.3h0M614.4 241.2h0M607.0 236.1h0M613.4 260.2h0M599.3 227.2h0M596.4 246.6h0M597.3 266.9h0M589.9 270.4h0M594.2 263.2h0M598.0 271.1h0M604.1 218.6h0M588.2 262.7h0M592.6 263.0h0M604.3 254.9h0M604.4 263.9h0M592.0 251.6h0M605.2 267.3h0M588.5 270.7h0M603.2 257.4h0M589.0 255.5h0M580.6 257.4h0M603.0 262.5h0M587.5 248.3h0M606.5 272.5h0M592.8 263.7h0M604.4 249.0h0M609.9 244.2h0M591.0 265.6h0M586.0 271.1h0M608.3 267.9h0M587.2 265.5h0M649.0 258.8h0M653.1 226.5h0M673.3 268.0h0M658.9 262.6h0M658.4 252.7h0M658.3 199.4h0M646.3 263.3h0M665.3 227.4h0M655.9 269.9h0M677.7 266.9h0M673.3 272.3h0M673.0 227.3h0M673.1 261.6h0M654.5 244.9h0M669.0 266.3h0M666.9 250.3h0M673.1 233.7h0M675.8 268.1h0M657.3 270.3h0M667.5 231.6h0M671.9 230.1h0M670.5 264.5h0M666.2 270.0h0M668.2 269.8h0M651.2 272.2h0M676.4 267.9h0M671.6 265.0h0M677.1 271.3h0M661.0 271.4h0M659.5 249.5h0M673.3 265.9h0M653.6 260.3h0M658.9 248.7h0M656.5 263.1h0M645.9 258.9h0M660.1 272.2h0M678.3 255.3h0M665.2 260.3h0M654.4 256.0h0M663.8 273.3h0M659.2 248.7h0M672.7 224.5h0M665.6 272.4h0M671.3 205.5h0M675.5 269.2h0M653.9 238.4h0M656.2 266.8h0M656.8 259.1h0M664.8 232.3h0M679.2 261.0h0M664.3 251.0h0M666.7 219.0h0M663.6 258.3h0M646.0 227.5h0M646.6 215.1h0M653.6 248.6h0M668.8 264.6h0M656.6 259.5h0M672.0 225.0h0M663.0 269.8h0M672.8 258.3h0M671.8 243.4h0M655.4 274.1h0M651.0 230.4h0M664.0 266.3h0M657.2 273.3h0M656.4 268.9h0M649.6 260.5h0M650.4 263.1h0M652.9 246.9h0M653.3 247.8h0M673.6 197.7h0M671.8 219.2h0M679.0 245.8h0M676.8 206.3h0M668.8 230.7h0M654.9 261.0h0M650.1 244.7h0M653.7 239.2h0M649.6 256.5h0M655.9 251.2h0M671.7 261.8h0M650.9 247.4h0M675.4 258.1h0M670.3 271.5h0M648.3 232.6h0M675.2 233.1h0M648.0 264.8h0M671.4 263.9h0M663.6 249.9h0M658.9 272.2h0M670.6 261.8h0M655.1 259.5h0M661.8 258.1h0M664.6 264.8h0M655.0 269.6h0M671.6 247.9h0M679.2 252.9h0M673.0 266.7h0M650.8 266.8h0M676.9 252.8h0M663.0 268.5h0M661.4 252.0h0M677.0 236.6h0M650.2 221.1h0M675.2 258.0h0M646.4 199.3h0M658.2 247.0h0M670.3 270.5h0M653.1 265.9h0M648.5 253.4h0M658.6 270.4h0M675.8 260.7h0M657.9 258.4h0M663.1 271.7h0M677.5 264.9h0M660.0 267.5h0M660.0 261.9h0M662.3 260.0h0M664.6 212.4h0M651.9 272.3h0M675.7 216.5h0M660.5 216.9h0M725.2 264.2h0M723.5 259.4h0M727.6 250.7h0M717.9 268.0h0M717.9 253.0h0M737.8 257.5h0M741.6 258.3h0M725.2 260.5h0M739.8 258.5h0M713.5 274.4h0M710.8 252.9h0M716.4 258.4h0M739.4 265.9h0M727.3 237.7h0M710.0 217.0h0M738.3 259.7h0M720.1 273.8h0M713.4 248.0h0M726.7 266.5h0M740.3 265.2h0M733.6 234.4h0M712.4 271.9h0M730.2 256.5h0M739.6 262.6h0M721.3 274.1h0M740.0 271.7h0M710.0 247.4h0M732.6 272.5h0M735.4 249.5h0M714.1 273.9h0M726.5 246.2h0M713.8 200.6h0M740.1 274.3h0M735.7 250.8h0M734.8 205.1h0M712.5 221.6h0M720.9 270.3h0M714.0 252.7h0M732.5 263.4h0M720.7 251.1h0M732.5 252.6h0M736.2 268.5h0M723.0 260.8h0M714.2 273.1h0M712.8 269.4h0M729.7 253.4h0M736.5 225.8h0M727.9 270.3h0M714.7 262.5h0M739.9 258.4h0M726.3 262.7h0M727.3 260.7h0M728.5 236.0h0M735.2 260.3h0M740.0 274.4h0M714.7 272.2h0M714.1 233.7h0M710.1 248.5h0M716.5 256.1h0M717.7 263.0h0M721.5 254.1h0M735.8 273.6h0M711.5 263.5h0M735.3 270.7h0M726.0 272.3h0M720.7 272.4h0M730.1 256.5h0M713.4 266.8h0M737.7 205.4h0M733.9 273.1h0M716.3 258.3h0M736.7 247.1h0M731.6 242.0h0M713.1 256.1h0M715.4 271.1h0M730.4 235.6h0M734.1 243.7h0M715.4 245.4h0M713.6 268.4h0M717.8 272.9h0M710.8 262.3h0M729.3 242.7h0M717.6 218.2h0M720.8 262.3h0M723.8 266.3h0M741.7 245.1h0M733.0 262.0h0M741.2 223.2h0M728.0 270.5h0M734.2 270.2h0M725.7 227.5h0M733.2 254.8h0M730.9 269.5h0M724.3 229.3h0M725.1 273.4h0M714.5 268.5h0M716.4 273.2h0M726.0 267.5h0M715.3 266.5h0M741.1 243.3h0M720.2 257.9h0M734.6 263.5h0M717.4 269.0h0M722.3 255.0h0M728.2 265.1h0M729.0 258.0h0M712.5 267.9h0M728.6 262.2h0M721.9 222.5h0M738.2 269.1h0M738.7 262.1h0M725.6 262.4h0M717.5 272.4h0M723.5 273.1h0M735.4 254.5h0M725.1 210.5h0M718.9 264.0h0M711.5 248.4h0M714.8 242.6h0M714.5 264.3h0M729.5 263.0h0M729.0 225.3h0M715.4 264.0h0M724.7 260.4h0M732.4 272.0h0M735.7 268.5h0M741.6 233.5h0M724.4 255.7h0M739.0 222.7h0M741.1 247.6h0M714.5 264.8h0M735.2 262.7h0M741.6 261.9h0M713.0 238.6h0M738.4 265.6h0M713.9 272.5h0M741.2 255.7h0M711.0 226.5h0M713.1 262.0h0M721.0 264.9h0M713.8 255.6h0M719.1 272.3h0M741.1 219.2h0M734.5 272.3h0M740.5 264.2h0M717.7 272.4h0M730.0 238.6h0M711.7 274.2h0M719.1 269.5h0M734.6 272.5h0M774.3 202.1h0M774.1 262.4h0M782.8 260.5h0M775.8 270.1h0M777.2 246.5h0M769.7 244.2h0M782.9 259.1h0M767.9 271.2h0M764.3 247.8h0M773.3 269.1h0M779.3 261.3h0M776.2 269.2h0M774.6 250.0h0M780.3 271.4h0M781.6 260.1h0M782.5 267.1h0M778.9 273.0h0M763.1 221.5h0M764.8 257.6h0M778.4 267.6h0M781.5 220.7h0M774.5 261.1h0M767.7 259.7h0M770.0 238.3h0M781.1 260.8h0M774.1 203.1h0M777.6 270.0h0M775.8 254.0h0M779.4 260.8h0M774.9 236.5h0M773.5 268.0h0M764.5 252.3h0M775.6 269.6h0M768.8 265.6h0M781.1 267.2h0M774.9 269.4h0M774.3 272.5h0M769.3 256.6h0M764.5 258.8h0M769.6 239.9h0M782.3 243.0h0M768.4 205.6h0M773.1 255.8h0M784.8 248.4h0M779.1 260.8h0M773.9 266.2h0M769.4 270.5h0M778.2 244.5h0M775.5 263.0h0M772.8 274.3h0M773.3 270.7h0M781.0 263.2h0M780.5 213.5h0M782.1 269.6h0M783.8 251.7h0M765.3 256.1h0M765.2 262.7h0M782.6 269.8h0M777.9 271.0h0M764.6 246.0h0M775.7 249.7h0M766.8 267.7h0M775.3 223.3h0M773.4 263.9h0M772.9 272.6h0M780.4 221.9h0M784.7 244.8h0M782.9 266.6h0M769.8 253.6h0M778.1 240.2h0M781.6 263.1h0M780.2 239.8h0M764.3 256.5h0M776.0 269.4h0M774.7 251.3h0M769.1 239.1h0M766.5 266.6h0M765.7 234.1h0M784.7 213.1h0M769.1 271.8h0M769.2 274.1h0M766.3 256.1h0M764.9 259.2h0M779.6 270.3h0M779.7 273.7h0M769.5 257.6h0M765.3 273.0h0M781.8 270.4h0M766.2 273.6h0M777.1 271.9h0M773.5 270.2h0M776.6 255.6h0M775.9 262.8h0M774.6 251.9h0M767.6 246.8h0M782.0 246.5h0M774.1 270.6h0M773.0 260.5h0M782.3 255.8h0M777.9 249.9h0M769.8 263.0h0M769.4 248.8h0M771.1 253.2h0M766.4 233.1h0M771.2 223.4h0M769.9 248.4h0M772.0 212.1h0M778.9 250.7h0M814.0 273.4h0M809.9 254.2h0M810.7 253.1h0M810.5 237.0h0M819.6 263.8h0M811.0 261.6h0M822.2 271.7h0M811.4 253.4h0M814.8 255.9h0M804.5 264.6h0M816.5 258.8h0M808.3 249.2h0M813.7 255.8h0M804.3 258.8h0M818.1 263.8h0M819.8 267.5h0M802.6 234.5h0M812.5 264.9h0M808.3 266.9h0M803.7 258.6h0M815.0 261.2h0M808.2 272.2h0M808.6 252.1h0M804.0 239.8h0M809.8 269.9h0M810.4 252.9h0M823.6 219.9h0M805.4 257.9h0M821.6 240.0h0M820.8 267.5h0M804.0 251.4h0M817.7 274.0h0M804.1 268.2h0M810.1 267.1h0M810.4 219.1h0M809.8 265.1h0M812.6 209.8h0M811.9 266.2h0M818.8 217.9h0M822.4 246.3h0M810.9 262.3h0M810.2 246.0h0M819.4 257.5h0M813.0 256.5h0M818.9 206.9h0M819.9 261.2h0M813.0 264.1h0M809.7 253.1h0M816.5 266.9h0M810.7 250.4h0M815.6 252.8h0M822.6 244.5h0M818.8 254.1h0M819.9 272.4h0M807.2 254.0h0M810.4 262.8h0M822.2 264.6h0M822.1 214.6h0M810.7 218.4h0M818.5 261.2h0M810.5 231.4h0M816.0 263.5h0M804.1 269.1h0M816.5 262.5h0M810.8 239.1h0M817.5 266.5h0M811.8 267.2h0M811.4 258.5h0M822.4 273.4h0M816.4 261.3h0M821.4 219.5h0M807.2 248.1h0M816.4 201.9h0M806.5 258.0h0M814.9 257.6h0M809.5 244.8h0M810.3 223.3h0M810.6 252.3h0M814.4 204.2h0M814.4 255.9h0M822.0 274.2h0M820.9 266.0h0M802.7 259.9h0M814.7 265.9h0M819.7 272.1h0M803.3 263.4h0M813.9 262.6h0M809.4 271.4h0M810.1 235.6h0M804.8 271.8h0M805.4 253.8h0M803.9 232.5h0M806.0 255.6h0M805.6 273.5h0M816.3 252.0h0M816.7 263.0h0M819.6 266.3h0M817.2 254.6h0M812.1 267.6h0M810.6 270.6h0M812.9 271.1h0M819.2 241.6h0M806.6 249.1h0M807.3 256.3h0M853.0 271.8h0M851.0 256.1h0M854.5 267.3h0M859.6 273.0h0M848.1 264.8h0M859.6 248.8h0M854.1 242.0h0M850.6 257.7h0M851.3 250.4h0M857.9 257.6h0M854.0 266.5h0M855.3 234.8h0M858.7 253.9h0M848.7 245.7h0M849.1 266.5h0M861.5 255.5h0M849.1 250.5h0M854.7 267.1h0M847.2 244.7h0M859.2 267.1h0M852.5 267.7h0M858.1 255.5h0M844.6 259.0h0M854.6 258.1h0M852.2 219.8h0M858.4 256.2h0M859.3 266.6h0M850.4 256.6h0M858.2 273.6h0M851.0 260.0h0M850.0 274.0h0M848.8 238.9h0M849.9 238.0h0M857.3 273.9h0M843.9 265.1h0M858.3 274.4h0M851.2 259.7h0M854.1 270.4h0M843.7 207.5h0M848.2 270.3h0M856.8 273.2h0M857.9 222.6h0M853.1 274.0h0M853.7 258.4h0M852.4 246.8h0M851.1 248.4h0M858.3 232.0h0M850.1 274.2h0M851.8 272.1h0M848.4 262.2h0M845.2 228.2h0M856.1 262.5h0M845.5 241.5h0M855.0 266.8h0M859.1 266.0h0M855.3 264.3h0M853.2 269.4h0M845.8 252.4h0M855.3 253.0h0M853.1 272.5h0M852.6 226.6h0M854.7 247.2h0M847.6 263.1h0M854.9 228.3h0M850.8 262.9h0M845.7 266.8h0M859.5 251.5h0M846.0 265.2h0M849.8 263.6h0M859.5 269.8h0M858.2 261.7h0M847.3 225.4h0M847.5 264.3h0M860.0 229.2h0M850.7 273.4h0M860.7 261.7h0M847.0 256.0h0M849.9 273.3h0M846.5 268.3h0M854.6 238.2h0M846.4 252.9h0M850.8 265.7h0M850.8 268.8h0M852.4 268.5h0M853.8 267.9h0M852.8 246.0h0M855.6 260.8h0M849.4 268.3h0M856.2 273.8h0M855.1 263.9h0M855.3 269.3h0M851.9 197.3h0M849.9 243.1h0M857.0 252.8h0M861.3 254.0h0M856.4 262.9h0M850.1 260.5h0M853.0 204.8h0M852.8 272.6h0M856.3 269.9h0M881.0 254.3h0M889.1 250.0h0M878.6 271.0h0M883.8 262.5h0M879.2 272.7h0M880.5 260.3h0M878.6 272.2h0M882.0 273.4h0M879.4 274.3h0M885.5 259.3h0M880.1 265.3h0M887.1 264.5h0M884.5 260.3h0M884.0 263.6h0M889.1 248.5h0M879.1 261.5h0M880.9 254.0h0M881.8 269.7h0M883.9 272.7h0M879.0 270.9h0M884.6 250.2h0M883.6 260.2h0M882.1 272.3h0M881.2 254.8h0M883.8 269.0h0M877.0 266.4h0M886.1 227.8h0M880.3 239.5h0M886.7 265.7h0M879.4 272.9h0M874.9 249.5h0M878.5 262.3h0M888.5 242.3h0M887.6 243.1h0M879.7 273.4h0M878.6 265.8h0M884.5 198.3h0M887.6 250.3h0M878.0 236.8h0M888.7 248.6h0M879.3 247.5h0M883.9 263.6h0M887.0 265.4h0M880.3 269.0h0M879.1 271.5h0M886.9 270.1h0M882.1 247.0h0M881.1 255.8h0M878.9 272.2h0M884.4 257.6h0M886.5 264.1h0M886.2 231.4h0M887.0 249.0h0M881.8 270.2h0M878.9 274.2h0M881.2 256.8h0M879.7 262.4h0M886.1 223.0h0M886.9 250.9h0M889.0 248.0h0M885.6 250.4h0M875.8 240.9h0M880.5 267.8h0M884.1 211.4h0M877.3 223.1h0M886.0 259.6h0M884.9 206.7h0M883.0 260.1h0M886.5 260.5h0M884.8 220.7h0M884.5 266.4h0M885.7 228.6h0M875.2 262.0h0M901.9 271.0h0M905.2 235.5h0M901.8 216.0h0M900.7 267.5h0M897.7 216.6h0M903.0 268.2h0M902.3 226.2h0M897.1 251.8h0M904.1 255.2h0M903.4 260.3h0M904.9 247.6h0M904.2 253.2h0M902.4 254.4h0M898.2 219.3h0M899.8 269.4h0M904.7 258.9h0M906.2 261.1h0M899.4 256.3h0M905.4 266.4h0M906.6 262.5h0M901.4 265.4h0M903.9 271.8h0M897.9 212.1h0M897.4 242.8h0M904.5 268.9h0M903.7 269.8h0M904.9 271.9h0M901.8 269.9h0M900.5 267.0h0M898.1 226.4h0M907.3 249.3h0M903.3 274.2h0M899.6 265.6h0M905.2 267.1h0M905.3 273.1h0M899.0 262.8h0M902.9 251.6h0M906.5 262.2h0M903.3 223.7h0M902.0 267.8h0M901.3 269.7h0M902.2 257.7h0M901.4 219.6h0M898.5 255.9h0M907.1 248.9h0M944.8 290.0h0M943.8 291.9h0M944.5 293.0h0M944.6 294.3h0M943.6 296.2h0M943.9 297.7h0M944.8 298.8h0M944.5 300.8h0M945.1 302.3h0M945.7 304.2h0M943.9 305.5h0M944.9 307.5h0M943.9 309.3h0M943.8 311.1h0M943.8 312.3h0M944.5 313.6h0M945.9 315.3h0M945.0 316.7h0M944.5 318.1h0M943.5 319.4h0M945.4 320.6h0M945.4 322.4h0M944.6 323.9h0M944.2 325.1h0M945.1 327.1h0M945.0 328.5h0M944.3 330.0h0M944.7 331.4h0M946.1 333.3h0M944.8 334.6h0M946.3 335.8h0M944.9 336.9h0M944.9 337.9h0M943.5 339.4h0M945.0 340.5h0M944.4 342.0h0M944.5 343.1h0M943.8 344.4h0M944.2 346.0h0M945.8 347.6h0M945.1 348.6h0M946.4 350.2h0M946.3 351.9h0M944.3 353.6h0M946.1 355.4h0M946.7 356.9h0M946.6 357.9h0M945.4 359.3h0M944.1 361.1h0M943.6 362.6h0M946.9 363.6h0M945.0 364.8h0M946.9 365.9h0M946.6 367.4h0M945.2 368.7h0M945.7 370.0h0M945.7 371.7h0M944.7 373.3h0M943.6 375.2h0M946.1 376.4h0M946.8 378.3h0M947.2 379.6h0M945.8 381.0h0M946.0 382.7h0M947.1 384.6h0M947.1 385.9h0M946.3 387.2h0M946.1 388.4h0M947.6 389.7h0M945.1 391.3h0M944.0 393.3h0M946.3 395.0h0M945.5 396.1h0M947.8 397.2h0M946.3 398.3h0M944.0 399.8h0M946.0 401.7h0M944.7 403.4h0M945.0 404.5h0M944.4 405.6h0M332.2 135.4h0M333.6 147.0h0M331.0 171.2h0M317.0 196.6h0M323.0 197.6h0M341.0 201.6h0M356.6 201.6h0M360.0 189.0h0M366.6 186.6h0M444.4 94.6h0M593.6 121.4h0M447.0 163.6h0M606.0 163.6h0M461.0 172.6h0M539.6 181.4h0M512.0 188.0h0M522.0 188.0h0M536.0 192.0h0M539.6 199.4h0M595.6 191.6h0M595.6 199.6h0M611.6 190.0h0M588.0 195.0h0M441.0 196.6h0M440.0 205.6h0M458.0 206.4h0M719.6 117.6h0M711.6 122.8h0M740.0 117.6h0M659.6 133.0h0M666.0 166.0h0M675.0 166.0h0M723.6 173.6h0M723.6 179.0h0M721.0 184.0h0M779.4 160.0h0M768.0 184.0h0M775.6 188.0h0M782.0 189.4h0M611.0 190.4h0M736.0 188.0h0M767.0 198.0h0M883.6 170.0h0M821.0 175.0h0M805.0 184.0h0M889.0 193.0h0M880.0 196.4h0M900.4 185.4h0M901.6 198.0h0M859.6 189.4h0M956.3 280.0h0M956.3 376.0h0" stroke="#888" stroke-width="2.8" stroke-linecap="round" fill="none"/>
<path d="M273.1 238.9h0M265.6 248.0h0M270.0 269.1h0M272.0 268.4h0M280.7 229.5h0M266.4 234.2h0M274.8 255.2h0M286.4 238.6h0M258.4 251.9h0M287.9 252.7h0M269.0 265.4h0M271.2 270.9h0M259.7 266.6h0M265.1 268.9h0M259.0 234.7h0M284.4 257.1h0M265.3 235.7h0M283.3 263.4h0M263.0 268.4h0M271.9 261.3h0M258.1 265.9h0M274.2 263.1h0M272.8 250.4h0M258.2 251.2h0M284.1 244.3h0M269.4 262.5h0M258.5 233.2h0M262.6 262.5h0M258.0 270.4h0M268.4 267.3h0M265.2 268.5h0M261.5 263.3h0M259.2 259.5h0M264.9 255.4h0M258.7 268.2h0M261.1 257.9h0M273.1 270.9h0M278.5 235.8h0M261.8 254.0h0M281.1 257.8h0M281.2 266.8h0M282.0 237.2h0M263.7 247.3h0M258.8 263.5h0M264.7 258.9h0M270.6 215.4h0M264.3 263.2h0M263.8 263.0h0M283.1 230.2h0M281.8 252.5h0M285.2 230.4h0M271.6 246.6h0M267.0 212.3h0M269.0 207.7h0M279.4 219.0h0M262.3 266.2h0M261.1 242.0h0M277.3 201.2h0M260.6 257.1h0M286.0 258.0h0M282.6 234.7h0M265.8 260.3h0M264.7 237.8h0M284.0 268.8h0M274.9 260.4h0M284.2 261.6h0M273.0 257.8h0M262.3 249.3h0M261.9 210.4h0M274.1 248.3h0M274.1 258.3h0M274.0 269.3h0M280.9 259.0h0M280.5 256.6h0M275.5 260.9h0M278.4 258.5h0M271.6 257.7h0M284.2 249.9h0M274.0 266.0h0M260.8 238.6h0M258.8 249.2h0M277.1 268.5h0M261.4 230.8h0M261.0 252.1h0M263.4 210.1h0M271.9 262.3h0M261.6 239.5h0M267.2 258.4h0M279.3 256.8h0M270.4 240.7h0M276.2 256.1h0M286.2 270.2h0M259.8 207.7h0M280.3 269.8h0M270.1 266.1h0M264.7 240.8h0M259.3 249.8h0M269.9 227.1h0M259.1 242.5h0M282.7 270.1h0M273.8 264.0h0M261.7 265.8h0M261.1 266.5h0M263.8 269.4h0M279.7 264.9h0M262.1 245.0h0M265.2 271.0h0M273.9 221.2h0M286.0 246.9h0M270.2 206.5h0M268.9 239.2h0M287.5 250.6h0M278.8 239.5h0M267.9 262.1h0M260.0 266.1h0M262.7 266.1h0M284.0 201.5h0M264.9 265.4h0M261.5 248.0h0M285.5 265.9h0M264.2 257.2h0M268.2 264.7h0M271.5 253.1h0M272.4 267.3h0M259.3 259.7h0M258.6 270.6h0M274.7 266.6h0M277.3 246.6h0M268.8 233.6h0M261.2 196.7h0M257.9 252.9h0M276.3 231.6h0M260.9 241.5h0M282.9 258.8h0M275.0 240.1h0M278.4 250.8h0M261.8 270.1h0M281.9 269.4h0M276.3 253.7h0M256.6 259.3h0M272.4 246.7h0M258.6 252.1h0M260.1 266.2h0M263.0 221.8h0M272.1 205.0h0M278.1 259.7h0M276.8 254.2h0M265.3 265.3h0M274.2 264.9h0M265.7 269.0h0M277.9 250.3h0M271.2 243.8h0M283.6 269.1h0M271.1 271.0h0M270.7 209.8h0M285.0 262.4h0M261.0 238.3h0M260.7 216.9h0M284.5 258.7h0M283.7 266.6h0M258.1 270.9h0M309.7 232.8h0M312.8 227.7h0M291.0 248.6h0M307.5 260.6h0M292.4 265.3h0M301.5 268.9h0M307.2 265.0h0M305.4 266.0h0M299.5 256.8h0M295.8 264.7h0M295.2 259.1h0M295.4 268.7h0M292.0 255.5h0M303.8 260.0h0M299.9 246.6h0M299.0 258.1h0M297.3 270.2h0M302.1 268.9h0M295.1 235.9h0M299.9 260.5h0M310.6 216.4h0M292.0 271.0h0M301.4 231.0h0M299.7 271.3h0M310.8 240.2h0M293.6 266.2h0M306.5 243.3h0M305.7 248.5h0M303.2 260.4h0M295.5 213.5h0M297.2 252.8h0M305.4 260.3h0M292.8 269.2h0M299.3 255.7h0M290.1 236.5h0M313.3 260.3h0M301.4 232.9h0M312.0 260.6h0M291.8 264.8h0M300.1 251.3h0M312.5 229.6h0M298.6 270.0h0M294.7 250.9h0M302.2 247.4h0M295.5 240.7h0M297.0 217.1h0M294.4 259.1h0M306.1 250.9h0M299.8 268.5h0M292.6 269.3h0M311.4 230.6h0M295.3 264.2h0M290.6 246.9h0M299.3 262.9h0M291.4 268.0h0M313.2 254.9h0M309.9 254.6h0M292.4 261.2h0M311.1 263.0h0M311.8 254.2h0M309.7 251.3h0M292.0 270.6h0M311.8 219.2h0M311.9 265.7h0M306.7 265.9h0M291.4 265.6h0M305.3 227.0h0M296.3 270.9h0M313.2 215.3h0M300.5 266.2h0M294.3 224.3h0M310.0 247.4h0M297.8 254.7h0M308.1 263.3h0M307.5 263.0h0M292.0 268.8h0M312.4 264.3h0M293.4 268.0h0M300.8 249.3h0M305.0 250.9h0M310.6 246.7h0M309.4 269.0h0M298.9 239.6h0M296.6 267.4h0M310.3 265.0h0M299.8 264.3h0M295.5 258.7h0M314.1 252.4h0M309.9 246.9h0M290.8 227.5h0M295.4 266.5h0M312.6 255.7h0M300.8 235.4h0M313.0 214.3h0M393.2 268.3h0M380.3 261.2h0M375.4 226.3h0M384.6 223.4h0M407.6 272.3h0M372.5 269.9h0M379.6 259.2h0M381.1 229.2h0M380.3 269.9h0M380.1 250.4h0M398.9 269.1h0M381.4 266.8h0M408.7 250.6h0M375.3 268.5h0M403.9 263.2h0M386.5 209.4h0M393.9 236.9h0M383.3 235.9h0M388.0 205.0h0M398.6 255.0h0M391.7 244.7h0M403.6 270.3h0M385.9 236.7h0M405.2 264.0h0M394.8 260.4h0M371.9 258.8h0M380.4 268.0h0M409.0 261.6h0M402.9 268.7h0M398.5 271.9h0M403.6 259.3h0M377.8 271.7h0M383.9 260.2h0M377.3 252.8h0M377.8 237.3h0M378.6 248.1h0M389.0 223.0h0M395.4 239.9h0M407.1 221.9h0M387.0 267.7h0M408.4 201.6h0M410.4 242.4h0M415.5 244.9h0M390.8 267.4h0M395.5 264.5h0M394.4 251.0h0M414.7 266.9h0M400.4 223.2h0M412.1 234.0h0M383.3 233.6h0M396.0 266.9h0M382.6 255.2h0M413.9 262.4h0M401.1 258.7h0M415.5 238.3h0M392.7 267.0h0M377.8 269.7h0M389.8 259.4h0M376.2 262.0h0M399.3 239.9h0M380.3 253.8h0M396.4 261.5h0M385.4 261.3h0M394.7 263.1h0M371.5 256.8h0M382.0 237.2h0M384.2 260.5h0M406.1 266.3h0M410.4 269.9h0M389.3 271.4h0M376.0 248.8h0M387.1 269.6h0M399.6 252.5h0M395.0 241.8h0M406.3 248.3h0M403.9 245.1h0M410.4 270.1h0M398.2 217.5h0M397.6 213.8h0M411.6 245.2h0M392.1 264.0h0M384.6 249.6h0M388.8 258.1h0M410.5 244.9h0M380.4 262.1h0M397.5 269.8h0M412.5 270.9h0M410.0 239.5h0M391.0 268.5h0M374.5 272.4h0M413.8 260.3h0M417.4 258.8h0M402.8 259.6h0M398.3 264.7h0M402.4 219.8h0M388.7 270.7h0M397.7 257.8h0M393.6 213.0h0M417.3 255.1h0M408.9 259.1h0M416.5 258.0h0M376.0 259.7h0M409.1 251.7h0M390.5 233.5h0M394.7 259.6h0M380.4 268.8h0M387.4 256.1h0M372.9 254.5h0M385.2 244.9h0M385.7 272.5h0M402.0 256.8h0M396.7 246.4h0M395.7 233.1h0M390.1 257.3h0M405.5 266.1h0M379.8 268.6h0M399.5 241.6h0M372.9 271.4h0M403.6 265.6h0M384.0 269.2h0M392.0 264.9h0M411.2 271.6h0M391.4 215.3h0M374.3 267.4h0M385.6 238.1h0M385.1 242.3h0M394.0 215.1h0M389.4 267.6h0M385.9 268.1h0M407.8 260.7h0M388.0 265.3h0M376.3 241.3h0M390.0 263.9h0M408.4 267.6h0M380.7 267.5h0M373.9 262.3h0M379.2 265.1h0M384.2 270.8h0M391.7 270.1h0M378.3 243.4h0M388.5 249.7h0M413.9 268.4h0M392.1 268.0h0M383.1 226.1h0M388.0 256.7h0M380.8 237.0h0M394.8 270.2h0M406.0 266.9h0M397.4 253.4h0M376.2 263.7h0M385.9 200.3h0M396.9 270.5h0M384.7 260.2h0M381.5 258.4h0M384.1 224.7h0M407.0 229.8h0M377.1 237.3h0M402.0 271.4h0M390.4 264.8h0M382.5 251.1h0M399.8 264.8h0M412.2 267.9h0M372.8 250.3h0M381.0 265.9h0M374.1 264.0h0M379.3 254.4h0M404.3 257.5h0M402.8 250.9h0M408.8 272.5h0M374.3 266.5h0M373.1 255.9h0M406.9 268.1h0M402.7 271.0h0M409.5 248.0h0M413.7 269.0h0M403.1 225.0h0M400.2 240.9h0M402.8 271.6h0M414.2 259.8h0M372.9 218.1h0M383.1 243.3h0M400.6 210.3h0M375.0 267.4h0M381.2 263.1h0M403.2 269.9h0M382.9 267.7h0M484.3 270.5h0M482.3 261.4h0M494.7 264.4h0M475.4 271.6h0M485.4 263.2h0M494.5 266.9h0M495.7 225.5h0M500.0 261.7h0M464.0 235.0h0M463.6 254.4h0M486.6 271.2h0M482.7 243.8h0M474.1 252.5h0M467.7 203.4h0M467.0 268.4h0M502.0 214.4h0M472.5 253.4h0M468.1 251.9h0M463.3 227.4h0M472.2 266.4h0M485.2 265.7h0M468.0 239.7h0M478.2 202.6h0M488.8 254.4h0M465.5 242.6h0M479.8 249.3h0M495.8 270.4h0M483.9 222.5h0M493.5 256.3h0M465.5 225.1h0M487.0 236.9h0M468.5 270.9h0M499.6 268.0h0M502.7 237.9h0M489.5 221.0h0M480.7 257.2h0M469.1 221.1h0M465.7 266.2h0M484.8 270.8h0M481.2 256.4h0M465.6 245.2h0M485.9 270.0h0M489.3 264.2h0M500.3 265.5h0M498.7 239.6h0M466.7 269.7h0M482.6 270.3h0M481.5 270.3h0M483.1 243.5h0M479.0 268.6h0M472.5 267.4h0M499.4 260.1h0M485.8 244.6h0M492.7 267.9h0M462.8 260.9h0M473.9 259.5h0M485.9 271.0h0M494.9 238.2h0M472.7 271.4h0M463.3 199.9h0M496.2 251.5h0M481.2 242.9h0M500.2 272.4h0M466.5 263.2h0M490.4 222.4h0M467.5 256.5h0M476.1 263.2h0M482.7 260.9h0M493.5 229.9h0M487.8 268.6h0M465.4 245.0h0M469.4 264.9h0M493.3 252.6h0M501.4 205.7h0M497.0 248.2h0M480.0 256.6h0M498.6 245.2h0M466.4 220.5h0M472.2 244.9h0M470.8 267.8h0M482.5 267.7h0M491.8 251.9h0M495.3 245.2h0M496.7 221.8h0M488.8 270.9h0M486.6 265.2h0M461.7 244.4h0M467.4 272.3h0M486.9 262.9h0M471.5 265.3h0M487.9 239.3h0M473.7 269.1h0M489.2 262.1h0M490.0 270.3h0M469.3 206.9h0M498.2 268.0h0M478.3 232.5h0M483.1 216.9h0M495.9 268.8h0M461.5 244.1h0M472.2 243.0h0M484.9 270.7h0M477.5 259.7h0M489.9 232.5h0M480.4 235.4h0M489.2 264.5h0M483.7 264.1h0M482.7 230.1h0M463.9 205.8h0M485.2 252.0h0M499.5 247.7h0M463.0 247.8h0M500.7 269.9h0M486.3 269.8h0M478.5 271.7h0M473.5 254.2h0M484.6 266.4h0M489.1 204.3h0M477.7 252.4h0M490.9 250.5h0M485.8 265.9h0M476.3 244.4h0M498.9 245.0h0M468.8 221.7h0M474.8 271.6h0M502.5 211.7h0M501.7 258.5h0M480.2 257.9h0M478.3 261.1h0M472.9 213.4h0M488.6 240.2h0M469.0 265.8h0M485.3 261.2h0M473.2 247.6h0M484.1 228.0h0M472.6 234.8h0M495.7 271.8h0M500.2 264.8h0M465.8 262.0h0M490.4 247.5h0M466.2 243.1h0M502.7 254.1h0M494.5 251.5h0M493.1 222.2h0M494.9 263.7h0M497.5 268.9h0M490.0 259.4h0M476.4 270.0h0M482.9 252.3h0M486.1 252.9h0M473.2 257.3h0M497.2 244.8h0M493.6 230.3h0M574.3 246.6h0M569.3 254.6h0M570.8 268.7h0M572.8 267.3h0M575.8 238.7h0M544.5 268.6h0M552.9 249.5h0M550.1 272.4h0M552.0 272.5h0M580.0 225.5h0M576.7 268.0h0M555.7 269.7h0M558.6 265.7h0M545.9 267.2h0M547.2 265.8h0M552.5 251.3h0M555.5 249.3h0M576.5 268.8h0M549.4 271.6h0M569.1 263.9h0M573.0 212.0h0M549.8 239.1h0M572.6 243.5h0M567.2 268.8h0M550.7 269.9h0M566.2 270.5h0M558.6 261.2h0M543.7 249.5h0M554.2 268.1h0M565.9 251.6h0M554.9 268.5h0M549.5 267.2h0M573.9 216.6h0M572.7 215.7h0M569.2 265.8h0M545.9 236.9h0M548.2 245.2h0M560.0 235.1h0M561.7 267.7h0M569.1 264.5h0M546.5 245.9h0M560.9 254.0h0M550.9 230.7h0M569.6 261.0h0M559.6 264.3h0M566.0 224.1h0M566.7 249.5h0M578.3 271.1h0M560.3 270.1h0M546.4 266.2h0M559.1 246.3h0M546.1 253.6h0M554.1 271.6h0M547.7 270.0h0M562.6 265.8h0M550.1 269.3h0M555.8 262.7h0M578.0 262.0h0M570.6 261.2h0M560.5 230.7h0M553.5 256.0h0M570.4 250.1h0M577.5 264.4h0M555.4 208.9h0M560.3 261.4h0M573.9 269.7h0M570.1 269.2h0M558.6 268.9h0M564.3 237.1h0M565.5 217.9h0M554.9 218.3h0M552.6 242.1h0M556.4 264.2h0M552.0 270.5h0M566.3 263.1h0M551.8 247.4h0M580.1 243.5h0M573.4 247.5h0M557.0 232.1h0M562.9 270.0h0M555.6 241.9h0M575.9 238.9h0M567.3 252.4h0M555.9 261.7h0M575.6 245.3h0M552.0 256.8h0M543.5 257.5h0M546.5 268.0h0M550.0 221.3h0M572.1 263.4h0M566.1 265.9h0M576.7 261.2h0M574.6 265.9h0M564.6 270.6h0M560.9 259.5h0M567.8 234.6h0M556.3 255.5h0M547.2 251.3h0M564.7 271.9h0M558.8 250.0h0M573.7 244.4h0M551.8 264.7h0M550.8 243.7h0M568.8 264.0h0M554.6 268.5h0M549.6 249.0h0M567.9 260.2h0M572.7 257.9h0M575.5 247.1h0M550.4 226.6h0M576.6 246.1h0M561.9 217.2h0M548.0 257.9h0M558.6 243.5h0M553.7 267.2h0M560.3 259.7h0M555.9 272.3h0M551.5 247.9h0M549.2 245.0h0M550.2 230.7h0M571.0 249.8h0M552.9 250.4h0M544.5 226.3h0M547.0 262.1h0M568.3 212.1h0M566.8 249.2h0M570.8 265.2h0M549.6 264.1h0M554.0 255.4h0M547.0 263.2h0M561.7 258.2h0M559.2 247.8h0M578.4 260.7h0M564.7 268.6h0M546.6 265.5h0M557.8 211.7h0M556.3 262.7h0M549.3 263.7h0M542.7 257.4h0M556.0 249.3h0M557.8 227.4h0M563.4 266.2h0M578.6 248.8h0M574.9 255.3h0M568.2 256.6h0M563.4 220.8h0M548.0 269.0h0M543.5 243.8h0M561.3 260.9h0M555.8 232.3h0M566.8 225.2h0M557.5 265.3h0M552.4 245.0h0M556.7 263.8h0M553.0 258.7h0M548.6 241.8h0M550.8 272.2h0M548.1 210.4h0M553.2 270.3h0M577.1 249.8h0M577.5 258.3h0M570.2 268.7h0M622.2 266.6h0M615.9 264.4h0M622.7 232.1h0M617.9 269.0h0M619.3 250.9h0M626.8 269.1h0M617.5 197.7h0M615.9 262.9h0M617.9 241.7h0M628.3 259.7h0M617.3 253.2h0M626.2 244.5h0M624.7 262.6h0M624.9 259.9h0M617.1 247.8h0M616.5 267.6h0M621.4 249.8h0M621.5 225.4h0M621.4 268.0h0M625.4 263.0h0M622.9 255.8h0M616.5 265.4h0M616.8 263.1h0M618.7 257.8h0M618.9 200.6h0M619.2 215.2h0M623.1 268.2h0M620.2 260.8h0M620.6 212.1h0M623.9 263.0h0M626.5 261.9h0M621.2 251.2h0M617.5 267.4h0M617.8 250.2h0M622.6 268.7h0M618.6 244.3h0M621.1 268.8h0M619.0 268.8h0M622.9 257.2h0M617.2 256.2h0M622.2 239.7h0M620.7 263.3h0M623.5 240.5h0M614.5 235.4h0M624.6 207.5h0M616.6 200.4h0M642.1 242.8h0M644.0 268.9h0M644.2 255.6h0M637.6 227.0h0M634.1 261.7h0M641.5 266.7h0M640.9 267.5h0M634.4 262.9h0M638.3 264.4h0M641.6 272.1h0M635.8 235.3h0M642.1 256.4h0M638.5 263.3h0M643.0 259.9h0M635.8 223.9h0M635.2 270.8h0M636.2 260.8h0M637.3 268.2h0M634.1 211.8h0M639.9 258.2h0M642.0 270.2h0M643.0 197.2h0M637.1 242.4h0M633.0 218.0h0M638.4 252.4h0M643.2 263.1h0M633.9 266.4h0M637.9 268.8h0M638.3 262.2h0M644.0 272.3h0M641.8 271.1h0M633.5 258.8h0M641.3 266.0h0M640.7 240.3h0M631.0 247.8h0M632.4 251.6h0M631.6 249.0h0M630.7 236.1h0M634.8 269.2h0M634.1 247.1h0M636.1 249.1h0M631.8 249.7h0M635.9 272.2h0M642.9 227.2h0M631.9 268.4h0M644.1 263.1h0M631.1 258.3h0M637.2 259.7h0M643.7 246.4h0M636.9 269.1h0M640.4 263.2h0M639.4 261.5h0M644.3 241.6h0M644.5 255.1h0M639.9 272.3h0M637.7 239.5h0M641.7 259.0h0M640.1 268.5h0M630.3 253.4h0M639.5 265.5h0M640.5 267.4h0M635.0 213.2h0M631.8 243.1h0M644.1 271.3h0M636.0 223.7h0M638.2 253.5h0M638.5 270.2h0M633.7 250.9h0M640.2 265.6h0M689.8 222.6h0M704.9 256.2h0M709.0 262.9h0M691.1 241.4h0M686.1 264.6h0M703.0 257.1h0M702.7 270.7h0M678.5 247.1h0M703.3 229.8h0M701.5 260.9h0M695.7 267.2h0M684.9 248.1h0M681.6 255.4h0M697.2 221.7h0M682.3 221.4h0M682.8 268.5h0M687.2 243.9h0M687.7 221.6h0M696.7 250.1h0M689.7 271.1h0M692.6 263.0h0M704.6 270.9h0M706.5 270.8h0M683.4 262.3h0M685.3 266.5h0M693.0 238.6h0M703.6 243.0h0M707.0 263.8h0M693.9 256.6h0M706.0 265.9h0M707.2 269.5h0M700.6 270.7h0M705.5 242.2h0M700.1 245.2h0M692.3 234.0h0M700.9 267.6h0M682.3 259.2h0M684.2 242.8h0M698.3 269.5h0M686.4 268.9h0M708.7 260.0h0M709.5 252.1h0M696.0 267.4h0M705.0 269.1h0M698.0 246.6h0M701.9 213.3h0M691.8 227.6h0M707.4 270.6h0M693.8 209.7h0M696.0 264.9h0M681.1 245.9h0M692.3 251.2h0M709.5 219.0h0M702.1 225.1h0M707.2 271.1h0M704.9 255.2h0M707.1 270.2h0M684.0 269.8h0M685.3 247.3h0M682.7 255.7h0M678.6 219.1h0M709.3 270.3h0M679.9 247.9h0M694.4 259.2h0M704.5 244.1h0M687.0 265.8h0M697.0 252.7h0M695.1 258.6h0M680.5 267.0h0M682.5 257.1h0M707.1 270.7h0M701.1 233.7h0M688.3 246.0h0M696.3 267.2h0M683.9 244.7h0M704.6 205.4h0M686.2 269.1h0M702.7 222.5h0M695.2 244.4h0M699.5 226.0h0M694.5 255.5h0M682.7 256.2h0M692.7 261.6h0M691.5 263.3h0M708.6 263.1h0M701.2 270.7h0M697.7 248.7h0M680.5 261.0h0M687.8 221.4h0M681.7 264.4h0M686.3 239.0h0M704.3 225.9h0M686.9 262.6h0M706.3 235.8h0M710.4 237.2h0M683.2 260.4h0M680.7 221.4h0M693.8 251.8h0M698.5 223.2h0M692.1 237.7h0M686.7 269.0h0M689.0 239.1h0M684.4 241.4h0M707.8 264.2h0M697.8 264.3h0M698.7 251.3h0M681.0 263.9h0M684.0 240.2h0M707.7 234.8h0M697.2 266.1h0M683.6 213.5h0M707.9 249.4h0M683.9 263.2h0M691.3 256.0h0M694.0 262.1h0M707.8 214.9h0M686.6 226.0h0M700.6 258.0h0M682.9 259.3h0M700.5 263.4h0M685.2 258.0h0M700.6 255.8h0M700.9 271.3h0M687.6 270.1h0M696.3 205.7h0M688.6 260.5h0M704.1 255.2h0M707.2 250.0h0M681.3 269.2h0M695.6 260.0h0M692.4 255.6h0M681.4 263.9h0M704.9 266.1h0M690.0 231.2h0M683.0 265.1h0M710.2 209.2h0M687.6 250.9h0M709.0 267.9h0M689.8 235.4h0M708.7 249.6h0M698.5 264.5h0M684.3 258.6h0M685.1 269.2h0M693.9 244.0h0M707.5 248.2h0M704.4 270.6h0M683.1 256.8h0M682.7 244.2h0M700.8 199.1h0M704.2 227.3h0M699.4 268.3h0M684.8 265.9h0M691.3 268.9h0M691.6 257.0h0M689.7 269.7h0M708.3 235.7h0M704.0 257.6h0M687.5 269.1h0M695.9 251.5h0M704.3 224.9h0M688.8 233.3h0M701.0 217.0h0M683.5 255.4h0M704.8 260.3h0M695.1 256.6h0M689.9 233.1h0M705.3 262.1h0M690.2 256.9h0M682.5 264.8h0M695.6 208.3h0M691.8 257.5h0M707.0 269.7h0M699.8 265.7h0M700.9 242.0h0M680.3 270.4h0M683.4 214.1h0M683.6 245.1h0M702.7 230.1h0M687.5 246.6h0M700.5 244.1h0M694.3 221.4h0M705.9 263.3h0M696.5 260.7h0M709.6 257.9h0M706.0 259.3h0M701.6 255.7h0M709.2 263.0h0M683.6 270.5h0M688.9 239.3h0M681.0 248.8h0M696.6 238.8h0M697.7 264.8h0M705.3 248.2h0M690.2 266.3h0M710.4 250.5h0M685.7 214.4h0M688.0 270.4h0M688.2 242.9h0M697.9 256.6h0M700.8 221.0h0M693.5 260.0h0M693.7 269.8h0M744.0 269.3h0M759.6 273.9h0M751.3 267.0h0M749.8 271.3h0M754.4 254.0h0M747.7 265.1h0M754.2 235.6h0M762.0 259.9h0M747.5 261.4h0M752.2 225.1h0M745.6 257.8h0M751.9 261.7h0M743.1 248.7h0M754.7 228.6h0M741.9 262.0h0M754.8 242.2h0M760.5 269.3h0M756.6 271.2h0M755.8 238.6h0M751.8 272.7h0M745.4 266.9h0M741.3 252.6h0M762.8 243.5h0M743.5 237.1h0M749.2 270.8h0M742.2 250.7h0M761.7 255.8h0M759.8 273.0h0M752.3 225.3h0M745.0 228.2h0M761.7 260.5h0M755.7 267.3h0M747.4 263.4h0M746.3 252.0h0M756.1 249.3h0M763.3 262.4h0M748.1 218.3h0M760.9 249.1h0M756.5 273.5h0M756.3 262.6h0M756.4 270.8h0M760.5 260.3h0M757.3 261.6h0M753.5 265.7h0M742.0 257.9h0M756.0 231.8h0M747.6 201.1h0M754.9 255.6h0M759.1 268.8h0M760.2 249.1h0M749.3 254.3h0M753.5 262.4h0M749.7 273.1h0M752.4 260.7h0M755.9 264.8h0M747.4 211.6h0M749.7 272.4h0M762.9 248.0h0M748.1 266.3h0M759.3 273.4h0M761.4 273.1h0M751.0 265.6h0M760.9 261.0h0M742.8 267.3h0M756.0 255.8h0M760.4 271.4h0M763.3 250.1h0M742.5 236.1h0M744.7 250.4h0M759.9 212.6h0M757.4 221.8h0M759.5 243.3h0M745.2 254.6h0M760.7 259.4h0M762.3 268.2h0M749.1 272.0h0M760.6 255.7h0M751.1 256.6h0M747.4 218.1h0M744.3 262.8h0M759.3 247.6h0M761.1 273.3h0M744.4 234.6h0M758.3 253.6h0M750.6 264.7h0M761.5 268.5h0M753.5 269.0h0M742.0 225.9h0M761.0 266.3h0M748.3 252.9h0M755.9 268.5h0M747.7 252.4h0M757.5 259.8h0M744.3 264.4h0M746.2 268.4h0M748.9 233.2h0M747.5 269.6h0M756.1 268.5h0M758.6 269.2h0M754.6 264.4h0M744.4 264.0h0M743.1 235.7h0M749.6 238.7h0M746.9 247.1h0M756.2 269.2h0M763.0 218.5h0M760.2 222.7h0M761.9 269.1h0M755.2 257.3h0M745.5 264.5h0M745.0 268.6h0M761.1 259.1h0M747.4 241.8h0M755.4 270.2h0M744.2 267.3h0M759.8 261.2h0M748.6 266.6h0M755.2 269.7h0M756.6 271.1h0M752.0 272.2h0M753.6 265.5h0M742.1 261.8h0M749.0 258.9h0M761.1 266.5h0M754.5 265.9h0M743.3 270.4h0M753.8 271.2h0M745.9 273.5h0M763.7 257.4h0M741.4 261.2h0M760.7 262.4h0M752.0 206.0h0M796.8 267.5h0M799.3 271.6h0M789.7 235.0h0M786.8 227.3h0M794.6 253.6h0M792.2 259.9h0M795.2 269.8h0M798.6 242.7h0M786.1 262.1h0M788.5 271.0h0M801.5 266.6h0M791.7 266.8h0M798.5 270.7h0M790.5 244.0h0M797.4 268.6h0M787.8 246.8h0M799.5 263.5h0M797.4 269.6h0M788.9 248.7h0M797.3 249.9h0M796.0 270.9h0M799.3 272.4h0M794.0 264.6h0M796.6 226.1h0M793.5 246.4h0M792.0 242.5h0M788.2 253.5h0M801.3 220.4h0M786.4 239.2h0M799.2 248.2h0M801.3 265.6h0M790.7 253.7h0M791.8 240.5h0M798.7 253.1h0M786.5 247.6h0M795.6 257.0h0M797.1 268.9h0M788.9 252.9h0M796.5 246.5h0M798.3 270.9h0M794.4 235.3h0M797.0 252.0h0M793.9 271.1h0M800.2 270.3h0M788.9 265.1h0M792.4 263.2h0M794.8 223.2h0M796.3 262.6h0M784.3 252.0h0M786.1 209.8h0M794.2 244.2h0M796.6 268.1h0M793.3 270.8h0M786.6 265.0h0M799.1 214.9h0M790.9 243.1h0M795.7 250.6h0M794.2 250.8h0M785.7 241.1h0M798.7 245.8h0M791.4 248.8h0M795.6 268.6h0M788.3 264.4h0M784.3 221.7h0M801.2 270.8h0M800.4 255.5h0M799.6 262.0h0M796.6 215.0h0M786.8 269.7h0M797.4 255.9h0M802.9 240.7h0M802.7 207.6h0M792.3 262.2h0M786.6 270.2h0M800.3 265.3h0M801.5 231.8h0M789.4 261.9h0M799.2 265.9h0M790.5 234.1h0M803.2 258.6h0M801.3 264.7h0M794.9 259.2h0M793.4 213.5h0M796.1 227.0h0M786.5 258.3h0M788.4 271.4h0M787.6 264.0h0M795.5 271.5h0M796.0 263.3h0M797.3 272.3h0M792.2 260.6h0M794.2 256.1h0M799.8 201.7h0M793.7 260.5h0M789.1 270.3h0M792.8 246.9h0M791.9 224.9h0M797.9 270.6h0M800.0 269.3h0M793.3 264.4h0M789.8 269.9h0M800.8 265.2h0M790.5 262.3h0M796.6 270.6h0M799.7 207.2h0M788.2 247.5h0M797.6 262.0h0M790.1 270.1h0M802.7 261.1h0M789.6 268.4h0M795.6 235.0h0M794.3 246.0h0M802.5 230.7h0M786.6 247.3h0M799.3 262.5h0M838.8 264.3h0M824.1 247.2h0M839.0 259.7h0M828.3 248.2h0M824.1 238.0h0M832.9 249.8h0M833.9 269.5h0M826.3 270.3h0M838.8 261.2h0M840.4 200.6h0M834.7 243.4h0M837.1 242.2h0M833.1 267.4h0M823.4 256.9h0M827.3 261.9h0M837.8 258.0h0M841.2 255.2h0M826.3 257.2h0M825.1 268.1h0M833.7 265.3h0M823.3 261.4h0M826.1 267.3h0M831.3 266.4h0M826.3 248.9h0M829.5 235.3h0M838.1 232.7h0M826.0 233.0h0M840.9 230.1h0M833.2 262.3h0M828.9 264.0h0M827.0 263.9h0M830.5 266.0h0M831.7 251.6h0M828.9 255.3h0M840.9 262.8h0M839.7 270.7h0M834.9 213.7h0M831.6 204.4h0M841.8 258.0h0M836.2 264.1h0M823.6 253.6h0M826.9 247.0h0M833.7 269.9h0M831.3 201.1h0M831.6 248.9h0M835.1 251.5h0M829.5 232.8h0M836.7 231.1h0M839.2 243.5h0M825.6 241.8h0M825.0 253.0h0M829.2 233.7h0M832.8 266.7h0M829.1 222.3h0M834.4 249.6h0M837.9 234.2h0M828.3 271.8h0M835.4 270.3h0M839.4 254.0h0M831.9 248.0h0M841.4 196.9h0M839.7 271.1h0M835.7 267.8h0M836.7 219.4h0M842.5 253.5h0M839.4 261.1h0M824.8 251.3h0M830.3 226.4h0M825.9 249.4h0M836.8 270.7h0M835.8 234.7h0M834.0 235.1h0M832.6 268.9h0M827.9 255.4h0M833.3 247.9h0M826.4 272.5h0M829.5 261.7h0M826.0 271.6h0M827.0 247.1h0M829.9 269.5h0M833.1 247.6h0M826.9 271.8h0M839.7 270.1h0M841.3 270.4h0M834.9 258.1h0M830.4 257.1h0M836.9 245.3h0M841.2 249.1h0M835.3 256.3h0M836.2 272.1h0M839.7 259.1h0M829.4 238.0h0M831.3 250.2h0M837.0 217.7h0M841.9 248.1h0M839.1 228.2h0M840.6 208.2h0M832.3 264.3h0M831.3 243.4h0M833.3 268.2h0M829.5 265.5h0M835.4 240.6h0M833.9 211.9h0M830.1 271.0h0M838.9 266.0h0M830.6 238.2h0M839.5 235.9h0M831.0 212.3h0M828.6 246.9h0M839.8 244.4h0M831.2 256.5h0M837.3 252.8h0M840.4 250.2h0M840.4 271.8h0M831.1 208.7h0M831.8 272.1h0M863.2 248.4h0M869.6 262.6h0M871.4 246.9h0M862.7 238.8h0M864.0 254.0h0M873.7 269.9h0M870.5 227.0h0M869.7 222.6h0M871.9 227.8h0M873.6 268.2h0M873.1 262.4h0M864.3 265.0h0M862.7 247.0h0M860.8 222.6h0M870.5 263.2h0M863.7 247.9h0M866.0 196.8h0M862.6 243.0h0M872.9 235.4h0M864.0 228.6h0M869.8 267.3h0M870.5 264.3h0M866.8 237.0h0M863.3 215.9h0M867.1 247.0h0M863.7 268.5h0M868.8 264.3h0M862.9 260.8h0M863.8 262.4h0M864.8 269.6h0M872.2 241.4h0M866.8 240.8h0M865.1 270.8h0M872.8 266.6h0M862.6 227.3h0M865.2 240.5h0M868.4 271.8h0M865.1 268.3h0M871.4 269.2h0M863.6 262.8h0M863.3 266.3h0M864.6 257.9h0M874.3 223.7h0M863.8 239.2h0M865.1 257.1h0M861.2 258.6h0M862.7 252.3h0M869.9 256.5h0M872.1 255.8h0M872.9 256.6h0M863.9 262.4h0M872.4 250.3h0M874.7 259.5h0M867.1 271.8h0M864.0 246.1h0M863.4 223.9h0M862.5 257.7h0M863.9 246.1h0M863.8 271.5h0M869.5 252.4h0M862.6 268.5h0M866.8 264.8h0M869.0 227.9h0M863.4 259.0h0M866.0 251.5h0M865.6 238.2h0M860.5 253.5h0M873.5 207.7h0M867.1 263.0h0M873.5 266.0h0M875.1 237.6h0M865.8 228.8h0M864.6 230.8h0M863.7 228.0h0M869.1 216.7h0M867.4 262.4h0M873.6 260.4h0M865.0 257.5h0M871.9 267.8h0M864.7 214.0h0M866.4 262.2h0M870.7 242.0h0M864.2 268.3h0M868.9 264.5h0M872.5 263.4h0M862.1 272.4h0M868.7 272.0h0M869.8 248.5h0M872.1 268.2h0M874.5 242.6h0M868.5 264.4h0M863.0 245.0h0M868.7 249.8h0M862.0 265.3h0M869.5 244.8h0M869.3 265.5h0M869.0 208.5h0M895.8 221.0h0M890.9 256.4h0M897.8 256.9h0M896.0 264.7h0M894.3 265.1h0M895.8 264.6h0M890.6 243.7h0M895.3 267.7h0M892.5 263.6h0M894.6 263.6h0M892.5 268.4h0M897.8 253.0h0M892.3 261.6h0M893.1 266.3h0M893.1 270.6h0M891.8 237.6h0M892.4 245.3h0M891.4 269.4h0M889.8 243.2h0M892.0 228.7h0M891.7 252.6h0M893.2 224.0h0M889.6 257.8h0M891.1 266.3h0M893.5 250.9h0M892.5 252.8h0M890.1 268.3h0M892.2 251.3h0M890.8 256.6h0M891.2 237.0h0M889.8 261.6h0M898.0 259.0h0M891.0 230.8h0M889.5 209.5h0M894.7 269.1h0M895.7 269.1h0M896.4 261.9h0M894.7 268.0h0M891.5 248.9h0M891.1 258.9h0M896.3 241.4h0M896.3 269.5h0M891.7 239.9h0M888.8 254.2h0M893.7 227.1h0M896.5 244.6h0M896.0 265.1h0M889.3 211.8h0M890.5 262.2h0M890.6 244.9h0M893.6 216.7h0M897.6 258.7h0M892.8 259.6h0M892.2 243.0h0M917.2 269.1h0M935.5 230.0h0M918.5 257.0h0M909.3 251.9h0M923.9 269.9h0M930.1 247.4h0M909.8 265.5h0M926.4 228.7h0M929.5 246.7h0M933.1 217.3h0M916.7 269.8h0M937.5 257.1h0M913.7 265.4h0M924.3 270.5h0M930.0 253.1h0M908.7 255.4h0M939.2 250.8h0M938.5 254.0h0M907.9 254.6h0M937.0 224.7h0M922.6 263.6h0M911.2 247.4h0M932.6 263.7h0M921.7 268.7h0M920.1 252.1h0M940.6 263.0h0M936.8 262.8h0M932.6 237.8h0M932.3 259.8h0M913.0 208.0h0M922.4 247.4h0M920.9 266.5h0M915.2 210.0h0M939.6 253.4h0M938.5 231.2h0M936.7 251.2h0M913.4 258.2h0M940.6 205.3h0M915.1 258.8h0M933.3 269.0h0M941.5 256.8h0M916.4 239.5h0M930.3 271.3h0M907.5 230.6h0M939.4 254.6h0M932.5 271.5h0M937.4 264.1h0M910.4 264.9h0M915.9 271.5h0M932.7 265.4h0M933.0 211.6h0M911.5 256.0h0M925.6 226.9h0M916.4 269.1h0M917.3 265.7h0M934.1 271.9h0M909.0 266.0h0M934.0 243.0h0M940.4 272.0h0M937.4 268.9h0M907.5 254.5h0M907.0 212.9h0M927.2 269.8h0M922.8 214.4h0M941.5 228.9h0M935.1 255.4h0M915.7 235.2h0M921.9 266.6h0M911.5 241.1h0M933.3 263.5h0M935.6 250.0h0M906.7 246.5h0M915.9 237.7h0M922.6 268.3h0M929.9 268.1h0M911.5 271.7h0M931.0 241.7h0M934.5 253.0h0M925.6 256.4h0M910.8 262.3h0M917.0 253.7h0M916.2 241.1h0M913.4 240.5h0M910.1 268.6h0M908.3 263.9h0M937.6 210.1h0M908.8 271.2h0M919.4 264.2h0M918.4 259.1h0M931.5 267.9h0M915.4 271.9h0M924.1 267.0h0M911.9 267.1h0M911.5 242.8h0M927.0 242.9h0M922.7 247.5h0M926.3 255.3h0M919.2 233.0h0M916.0 265.2h0M922.9 244.0h0M937.4 268.0h0M932.5 263.3h0M935.3 262.7h0M923.8 268.5h0M934.3 261.3h0M917.4 235.3h0M934.4 214.9h0M912.8 255.8h0M934.7 240.6h0M912.6 254.8h0M907.2 201.6h0M931.7 253.2h0M940.0 236.6h0M912.0 261.7h0M939.7 268.4h0M908.6 260.5h0M933.4 267.5h0M911.4 260.6h0M926.9 266.6h0M912.3 268.0h0M922.7 263.4h0M912.0 265.7h0M931.3 254.6h0M913.6 259.7h0M923.0 259.0h0M941.8 254.6h0M911.0 243.5h0M915.7 266.9h0M929.7 253.4h0M912.1 237.3h0M934.2 262.3h0M938.7 261.3h0M925.3 249.7h0M933.2 216.6h0M917.8 264.9h0M938.5 240.5h0M939.3 263.0h0M913.7 265.7h0M920.3 252.0h0M919.3 271.9h0M923.9 271.6h0M940.6 253.7h0M907.3 260.4h0M936.8 240.0h0M933.0 267.2h0M911.1 261.3h0M932.1 257.3h0M935.4 271.2h0M918.9 252.2h0M910.4 262.2h0M908.5 269.7h0M922.7 254.4h0M937.8 267.0h0M926.0 202.6h0M920.4 251.6h0M934.1 266.5h0M913.4 266.3h0M915.4 225.1h0M914.0 258.9h0M939.9 225.4h0M912.7 262.2h0M921.8 262.9h0M915.1 231.3h0M912.6 252.0h0M908.2 269.0h0M923.8 271.7h0M917.5 255.5h0M918.6 262.6h0M912.7 266.1h0M910.2 257.3h0M924.8 268.6h0M933.2 260.3h0M915.0 262.0h0M919.7 227.8h0M913.9 269.2h0M937.0 261.2h0M915.5 267.5h0M927.7 267.7h0M921.8 261.4h0M939.9 237.1h0M909.6 268.0h0M941.0 234.2h0M917.0 265.1h0M919.2 222.4h0M935.4 241.6h0M915.7 264.5h0M941.4 268.0h0M940.7 273.5h0M940.7 276.5h0M941.1 280.5h0M941.6 286.1h0M941.7 291.6h0M941.3 295.8h0M941.6 298.9h0M942.9 304.7h0M940.7 310.5h0M942.6 314.9h0M940.7 318.3h0M940.7 321.9h0M942.3 327.2h0M940.6 333.1h0M942.5 338.2h0M940.7 341.8h0M942.5 347.7h0M941.0 350.9h0M940.9 355.9h0M940.9 360.2h0M941.7 363.5h0M942.6 368.1h0M941.4 371.1h0M941.9 374.3h0M941.3 377.8h0M942.1 383.7h0M942.0 388.7h0M942.2 392.4h0M940.7 398.3h0M941.4 403.8h0M276.2 126.6h0M314.4 125.4h0M380.6 129.0h0M296.6 150.8h0M263.4 154.6h0M270.0 158.4h0M267.0 163.0h0M267.4 165.0h0M407.4 158.6h0M283.6 170.0h0M294.2 173.8h0M309.4 175.0h0M416.4 175.2h0M376.8 181.4h0M384.6 187.8h0M418.6 188.0h0M410.0 194.2h0M384.6 194.2h0M380.6 198.0h0M376.6 203.0h0M403.6 201.6h0M270.6 189.0h0M262.0 191.4h0M258.0 195.4h0M267.0 194.4h0M276.4 191.4h0M294.0 195.4h0M300.6 205.6h0M267.0 206.6h0M311.0 208.0h0M312.0 211.0h0M467.2 111.4h0M491.6 116.4h0M547.6 106.2h0M552.6 142.0h0M471.6 176.4h0M480.0 181.4h0M489.0 175.0h0M568.0 176.4h0M551.0 189.0h0M560.0 189.0h0M575.0 188.0h0M574.0 191.6h0M557.6 198.0h0M564.0 199.4h0M569.0 195.6h0M573.0 198.0h0M579.4 196.6h0M472.0 198.0h0M480.0 199.6h0M470.0 205.0h0M490.0 205.6h0M495.0 203.0h0M552.4 204.4h0M562.0 208.0h0M567.0 206.4h0M420.0 188.0h0M686.4 90.8h0M695.2 117.6h0M698.0 128.0h0M695.2 138.2h0M742.4 121.6h0M646.8 140.6h0M703.0 153.6h0M624.0 174.0h0M643.0 176.4h0M702.0 166.0h0M690.0 174.0h0M698.0 177.6h0M679.6 185.0h0M702.0 188.0h0M761.6 165.0h0M793.2 166.4h0M798.0 186.6h0M797.0 193.0h0M640.4 190.4h0M631.6 194.4h0M641.6 199.4h0M743.6 198.0h0M789.6 204.4h0M875.0 97.4h0M830.4 137.0h0M803.6 145.6h0M899.0 140.6h0M838.0 162.4h0M793.4 166.0h0M862.0 167.4h0M863.6 172.6h0M875.0 170.0h0M827.6 176.4h0M798.4 186.6h0M797.4 193.0h0M862.0 185.4h0M864.0 195.0h0M874.0 199.0h0M914.4 195.6h0M923.6 193.0h0M828.0 206.4h0M863.6 204.4h0M895.0 206.0h0" stroke="#131313" stroke-width="3.2" stroke-linecap="round" fill="none"/>
<line x1="237" y1="267.4" x2="977" y2="267.4" stroke="#bc3a4c" stroke-width="1.8"/>
<path d="M225 41.9H977V417H236.7V41.9" fill="none" stroke="#505050" stroke-width="2.1"/>
<line x1="224.7" y1="406.1" x2="236.7" y2="406.1" stroke="#505050" stroke-width="2.1"/>
<line x1="224.7" y1="375.8" x2="236.7" y2="375.8" stroke="#505050" stroke-width="2.1"/>
<line x1="224.7" y1="345.4" x2="236.7" y2="345.4" stroke="#505050" stroke-width="2.1"/>
<line x1="224.7" y1="315.1" x2="236.7" y2="315.1" stroke="#505050" stroke-width="2.1"/>
<line x1="224.7" y1="284.7" x2="236.7" y2="284.7" stroke="#505050" stroke-width="2.1"/>
<line x1="224.7" y1="254.4" x2="236.7" y2="254.4" stroke="#505050" stroke-width="2.1"/>
<line x1="224.7" y1="224.0" x2="236.7" y2="224.0" stroke="#505050" stroke-width="2.1"/>
<line x1="224.7" y1="193.7" x2="236.7" y2="193.7" stroke="#505050" stroke-width="2.1"/>
<line x1="224.7" y1="163.3" x2="236.7" y2="163.3" stroke="#505050" stroke-width="2.1"/>
<line x1="224.7" y1="132.9" x2="236.7" y2="132.9" stroke="#505050" stroke-width="2.1"/>
<line x1="224.7" y1="102.6" x2="236.7" y2="102.6" stroke="#505050" stroke-width="2.1"/>
<line x1="224.7" y1="72.2" x2="236.7" y2="72.2" stroke="#505050" stroke-width="2.1"/>
<line x1="224.7" y1="41.9" x2="236.7" y2="41.9" stroke="#505050" stroke-width="2.1"/>
<text x="214.8" y="413.7" text-anchor="end" font-size="22" fill="#111">0</text>
<text x="214.8" y="353.0" text-anchor="end" font-size="22" fill="#111">1</text>
<text x="214.8" y="292.3" text-anchor="end" font-size="22" fill="#111">2</text>
<text x="214.8" y="231.6" text-anchor="end" font-size="22" fill="#111">3</text>
<text x="214.8" y="170.9" text-anchor="end" font-size="22" fill="#111">4</text>
<text x="214.8" y="110.2" text-anchor="end" font-size="22" fill="#111">5</text>
<text x="214.8" y="49.5" text-anchor="end" font-size="22" fill="#111">6</text>
<line x1="258.0" y1="417" x2="258.0" y2="429.4" stroke="#505050" stroke-width="2.1"/>
<line x1="316.0" y1="417" x2="316.0" y2="429.4" stroke="#505050" stroke-width="2.1"/>
<line x1="373.0" y1="417" x2="373.0" y2="429.4" stroke="#505050" stroke-width="2.1"/>
<line x1="419.0" y1="417" x2="419.0" y2="429.4" stroke="#505050" stroke-width="2.1"/>
<line x1="463.6" y1="417" x2="463.6" y2="429.4" stroke="#505050" stroke-width="2.1"/>
<line x1="505.0" y1="417" x2="505.0" y2="429.4" stroke="#505050" stroke-width="2.1"/>
<line x1="545.4" y1="417" x2="545.4" y2="429.4" stroke="#505050" stroke-width="2.1"/>
<line x1="582.0" y1="417" x2="582.0" y2="429.4" stroke="#505050" stroke-width="2.1"/>
<line x1="615.4" y1="417" x2="615.4" y2="429.4" stroke="#505050" stroke-width="2.1"/>
<line x1="648.4" y1="417" x2="648.4" y2="429.4" stroke="#505050" stroke-width="2.1"/>
<line x1="679.4" y1="417" x2="679.4" y2="429.4" stroke="#505050" stroke-width="2.1"/>
<line x1="711.6" y1="417" x2="711.6" y2="429.4" stroke="#505050" stroke-width="2.1"/>
<line x1="742.4" y1="417" x2="742.4" y2="429.4" stroke="#505050" stroke-width="2.1"/>
<line x1="763.6" y1="417" x2="763.6" y2="429.4" stroke="#505050" stroke-width="2.1"/>
<line x1="785.6" y1="417" x2="785.6" y2="429.4" stroke="#505050" stroke-width="2.1"/>
<line x1="804.4" y1="417" x2="804.4" y2="429.4" stroke="#505050" stroke-width="2.1"/>
<line x1="825.2" y1="417" x2="825.2" y2="429.4" stroke="#505050" stroke-width="2.1"/>
<line x1="844.4" y1="417" x2="844.4" y2="429.4" stroke="#505050" stroke-width="2.1"/>
<line x1="862.4" y1="417" x2="862.4" y2="429.4" stroke="#505050" stroke-width="2.1"/>
<line x1="876.4" y1="417" x2="876.4" y2="429.4" stroke="#505050" stroke-width="2.1"/>
<line x1="890.4" y1="417" x2="890.4" y2="429.4" stroke="#505050" stroke-width="2.1"/>
<line x1="899.4" y1="417" x2="899.4" y2="429.4" stroke="#505050" stroke-width="2.1"/>
<line x1="907.6" y1="417" x2="907.6" y2="429.4" stroke="#505050" stroke-width="2.1"/>
<line x1="942.4" y1="417" x2="942.4" y2="429.4" stroke="#505050" stroke-width="2.1"/>
<line x1="956.0" y1="417" x2="956.0" y2="429.4" stroke="#505050" stroke-width="2.1"/>
<text transform="translate(284.8 461) rotate(90)" text-anchor="end" dy="3" font-size="9.5" fill="#444">1</text>
<text transform="translate(348.0 461) rotate(90)" text-anchor="end" dy="3" font-size="9.5" fill="#444">2</text>
<text transform="translate(396.0 461) rotate(90)" text-anchor="end" dy="3" font-size="9.5" fill="#444">3</text>
<text transform="translate(439.0 461) rotate(90)" text-anchor="end" dy="3" font-size="9.5" fill="#444">4</text>
<text transform="translate(487.0 461) rotate(90)" text-anchor="end" dy="3" font-size="9.5" fill="#444">5</text>
<text transform="translate(525.0 461) rotate(90)" text-anchor="end" dy="3" font-size="9.5" fill="#444">6</text>
<text transform="translate(564.0 461) rotate(90)" text-anchor="end" dy="3" font-size="9.5" fill="#444">7</text>
<text transform="translate(599.0 461) rotate(90)" text-anchor="end" dy="3" font-size="9.5" fill="#444">8</text>
<text transform="translate(630.0 461) rotate(90)" text-anchor="end" dy="3" font-size="9.5" fill="#444">9</text>
<text transform="translate(663.5 461) rotate(90)" text-anchor="end" dy="3" font-size="9.5" fill="#444">10</text>
<text transform="translate(695.0 461) rotate(90)" text-anchor="end" dy="3" font-size="9.5" fill="#444">11</text>
<text transform="translate(727.5 461) rotate(90)" text-anchor="end" dy="3" font-size="9.5" fill="#444">12</text>
<text transform="translate(753.0 461) rotate(90)" text-anchor="end" dy="3" font-size="9.5" fill="#444">13</text>
<text transform="translate(773.0 461) rotate(90)" text-anchor="end" dy="3" font-size="9.5" fill="#444">14</text>
<text transform="translate(794.0 461) rotate(90)" text-anchor="end" dy="3" font-size="9.5" fill="#444">15</text>
<text transform="translate(813.0 461) rotate(90)" text-anchor="end" dy="3" font-size="9.5" fill="#444">16</text>
<text transform="translate(836.0 461) rotate(90)" text-anchor="end" dy="3" font-size="9.5" fill="#444">17</text>
<text transform="translate(852.0 461) rotate(90)" text-anchor="end" dy="3" font-size="9.5" fill="#444">18</text>
<text transform="translate(865.5 461) rotate(90)" text-anchor="end" dy="3" font-size="9.5" fill="#444">19</text>
<text transform="translate(879.5 461) rotate(90)" text-anchor="end" dy="3" font-size="9.5" fill="#444">20</text>
<text transform="translate(894.0 461) rotate(90)" text-anchor="end" dy="3" font-size="9.5" fill="#444">21</text>
<text transform="translate(910.5 461) rotate(90)" text-anchor="end" dy="3" font-size="9.5" fill="#444">22</text>
<text transform="translate(926.0 461) rotate(90)" text-anchor="end" dy="3" font-size="9.5" fill="#444">X</text>
<text transform="translate(946.0 461) rotate(90)" text-anchor="end" dy="3" font-size="9.5" fill="#444">Y</text>
</svg>
<svg width="1000" height="749" style="position:absolute;left:0;top:0">
<text x="607.2" y="26.2" text-anchor="middle" font-size="25" font-weight="bold" fill="#111">Total Phthalate DMP</text>
<text transform="translate(12.3 108.6) scale(0.92 1)" font-size="42" fill="#000" stroke="#fff" stroke-width="0.7">A</text>
<text transform="translate(12.2 507.4) scale(0.93 1)" font-size="42" fill="#000" stroke="#fff" stroke-width="0.7">B</text>
<text transform="translate(154.4 272.3) rotate(-90)" font-size="18" fill="#222">&#8722;<tspan dx="3.8">log</tspan><tspan font-size="13" dy="2.8" dx="0.8">10</tspan><tspan dy="-2.8" dx="4.4" font-size="24">(</tspan><tspan font-style="italic">p</tspan><tspan dx="4.2" font-size="24">)</tspan></text>
<text x="606" y="510.5" text-anchor="middle" font-size="20" fill="#333">Chromosome</text>
<rect x="438.3" y="532.2" width="352.8" height="205.5" fill="none" stroke="#6e6e6e" stroke-width="1.6"/>
<ellipse cx="555.2" cy="634.7" rx="88.2" ry="62.1" fill="#fef3f5" stroke="none"/>
<ellipse cx="672.95" cy="634.7" rx="89.35" ry="62.1" fill="#f3f3fe" stroke="none"/>
<clipPath id="cr"><ellipse cx="555.2" cy="634.7" rx="88.2" ry="62.1"/></clipPath>
<ellipse cx="672.95" cy="634.7" rx="89.35" ry="62.1" fill="#eee3f2" clip-path="url(#cr)"/>
<ellipse cx="555.2" cy="634.7" rx="88.2" ry="62.1" fill="none" stroke="#e06a80" stroke-width="1.5"/>
<ellipse cx="672.95" cy="634.7" rx="89.35" ry="62.1" fill="none" stroke="#6e6ee4" stroke-width="1.5"/>
<text x="544" y="566.5" text-anchor="middle" font-size="20" fill="#222">Regional</text>
<text x="684.4" y="567.4" text-anchor="middle" font-size="20" fill="#222">Site-by-Site</text>
<text x="526" y="638.7" text-anchor="middle" font-size="20" fill="#111">206</text>
<text x="613.8" y="638.7" text-anchor="middle" font-size="20" fill="#111">39</text>
<text x="702.2" y="638.7" text-anchor="middle" font-size="20" fill="#111">1421</text>
<text x="749.8" y="728.9" text-anchor="middle" font-size="20" fill="#111">0</text>
</svg>
</body></html>
